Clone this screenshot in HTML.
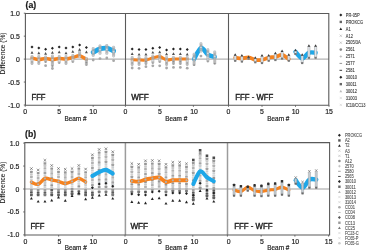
<!DOCTYPE html>
<html><head><meta charset="utf-8"><style>
html,body{margin:0;padding:0;background:#fff;width:367px;height:252px;overflow:hidden;position:relative}
</style></head><body>
<svg width="367" height="252" viewBox="0 0 367 252" style="position:absolute;left:0;top:0;filter:blur(0.3px)"><g font-family='"Liberation Sans", sans-serif'><line x1="25.4" y1="59.1" x2="328.8" y2="59.1" stroke="#949494" stroke-width="0.9"/><line x1="24.8" y1="189.0" x2="329.6" y2="189.0" stroke="#949494" stroke-width="0.9"/><path d="M32.00 58.00 C33.09 58.24 36.62 59.42 38.80 59.50 C40.98 59.58 43.42 58.50 45.60 58.50 C47.78 58.50 50.22 59.50 52.40 59.50 C54.58 59.50 57.02 58.58 59.20 58.50 C61.38 58.42 63.82 59.16 66.00 59.00 C68.18 58.84 70.62 58.01 72.80 57.50 C74.98 56.99 77.42 55.51 79.60 55.80 C81.78 56.09 85.31 58.74 86.40 59.30" fill="none" stroke="#f5821f" stroke-width="3.4" stroke-linecap="round"/><path d="M93.20 52.40 C94.29 51.84 97.82 49.57 100.00 48.90 C102.18 48.23 104.62 47.86 106.80 48.20 C108.98 48.54 112.51 50.55 113.60 51.00" fill="none" stroke="#1ea7e8" stroke-width="4.8" stroke-linecap="round"/><rect x="30.50" y="55.00" width="3.0" height="10.00" rx="1.4" fill="#acacac" fill-opacity="0.8"/><rect x="31.10" y="55.20" width="1.8" height="1.6" rx="0.7" fill="#c8ced4" fill-opacity="0.85"/><rect x="31.10" y="57.20" width="1.8" height="1.6" rx="0.7" fill="#a8a8a8" fill-opacity="0.85"/><rect x="31.10" y="59.20" width="1.8" height="1.6" rx="0.7" fill="#dde2e6" fill-opacity="0.85"/><rect x="31.10" y="61.20" width="1.8" height="1.6" rx="0.7" fill="#9a9a9a" fill-opacity="0.85"/><rect x="31.10" y="63.20" width="1.8" height="1.6" rx="0.7" fill="#b8b8b8" fill-opacity="0.85"/><path d="M32.0 45.4L33.5 46.9L32.0 48.4L30.5 46.9Z" fill="#222"/><path d="M32.0 51.0L33.5 53.7L30.5 53.7Z" fill="#505050"/><rect x="37.30" y="55.00" width="3.0" height="10.00" rx="1.4" fill="#acacac" fill-opacity="0.8"/><rect x="37.90" y="55.20" width="1.8" height="1.6" rx="0.7" fill="#c8ced4" fill-opacity="0.85"/><rect x="37.90" y="57.20" width="1.8" height="1.6" rx="0.7" fill="#a8a8a8" fill-opacity="0.85"/><rect x="37.90" y="59.20" width="1.8" height="1.6" rx="0.7" fill="#dde2e6" fill-opacity="0.85"/><rect x="37.90" y="61.20" width="1.8" height="1.6" rx="0.7" fill="#9a9a9a" fill-opacity="0.85"/><rect x="37.90" y="63.20" width="1.8" height="1.6" rx="0.7" fill="#b8b8b8" fill-opacity="0.85"/><path d="M38.8 46.5L40.3 48L38.8 49.5L37.3 48Z" fill="#222"/><path d="M38.8 51.5L40.3 54.2L37.3 54.2Z" fill="#505050"/><rect x="44.10" y="55.50" width="3.0" height="7.50" rx="1.4" fill="#acacac" fill-opacity="0.8"/><rect x="44.70" y="55.70" width="1.8" height="1.6" rx="0.7" fill="#c8ced4" fill-opacity="0.85"/><rect x="44.70" y="58.45" width="1.8" height="1.6" rx="0.7" fill="#a8a8a8" fill-opacity="0.85"/><rect x="44.70" y="61.20" width="1.8" height="1.6" rx="0.7" fill="#8a8a8a" fill-opacity="0.85"/><path d="M45.599999999999994 47.8L47.099999999999994 49.3L45.599999999999994 50.8L44.099999999999994 49.3Z" fill="#222"/><path d="M45.599999999999994 52.0L47.099999999999994 54.7L44.099999999999994 54.7Z" fill="#505050"/><circle cx="45.599999999999994" cy="65.7" r="1.4" fill="#a8a8a8"/><rect x="50.90" y="54.50" width="3.0" height="12.50" rx="1.4" fill="#acacac" fill-opacity="0.8"/><rect x="51.50" y="54.70" width="1.8" height="1.6" rx="0.7" fill="#c8ced4" fill-opacity="0.85"/><rect x="51.50" y="56.80" width="1.8" height="1.6" rx="0.7" fill="#a8a8a8" fill-opacity="0.85"/><rect x="51.50" y="58.90" width="1.8" height="1.6" rx="0.7" fill="#dde2e6" fill-opacity="0.85"/><rect x="51.50" y="61.00" width="1.8" height="1.6" rx="0.7" fill="#9a9a9a" fill-opacity="0.85"/><rect x="51.50" y="63.10" width="1.8" height="1.6" rx="0.7" fill="#b8b8b8" fill-opacity="0.85"/><rect x="51.50" y="65.20" width="1.8" height="1.6" rx="0.7" fill="#8a8a8a" fill-opacity="0.85"/><path d="M52.4 46.8L53.9 48.3L52.4 49.8L50.9 48.3Z" fill="#222"/><path d="M52.4 51.0L53.9 53.7L50.9 53.7Z" fill="#505050"/><circle cx="52.4" cy="68.5" r="1.4" fill="#a8a8a8"/><rect x="57.70" y="55.00" width="3.0" height="9.00" rx="1.4" fill="#acacac" fill-opacity="0.8"/><rect x="58.30" y="55.20" width="1.8" height="1.6" rx="0.7" fill="#c8ced4" fill-opacity="0.85"/><rect x="58.30" y="57.53" width="1.8" height="1.6" rx="0.7" fill="#a8a8a8" fill-opacity="0.85"/><rect x="58.30" y="59.87" width="1.8" height="1.6" rx="0.7" fill="#dde2e6" fill-opacity="0.85"/><rect x="58.30" y="62.20" width="1.8" height="1.6" rx="0.7" fill="#9a9a9a" fill-opacity="0.85"/><path d="M59.2 45.5L60.7 47L59.2 48.5L57.7 47Z" fill="#222"/><path d="M59.2 50.5L60.7 53.2L57.7 53.2Z" fill="#505050"/><rect x="64.50" y="55.00" width="3.0" height="10.00" rx="1.4" fill="#acacac" fill-opacity="0.8"/><rect x="65.10" y="55.20" width="1.8" height="1.6" rx="0.7" fill="#c8ced4" fill-opacity="0.85"/><rect x="65.10" y="57.20" width="1.8" height="1.6" rx="0.7" fill="#a8a8a8" fill-opacity="0.85"/><rect x="65.10" y="59.20" width="1.8" height="1.6" rx="0.7" fill="#dde2e6" fill-opacity="0.85"/><rect x="65.10" y="61.20" width="1.8" height="1.6" rx="0.7" fill="#9a9a9a" fill-opacity="0.85"/><rect x="65.10" y="63.20" width="1.8" height="1.6" rx="0.7" fill="#b8b8b8" fill-opacity="0.85"/><path d="M66.0 46.5L67.5 48L66.0 49.5L64.5 48Z" fill="#222"/><path d="M66.0 51.5L67.5 54.2L64.5 54.2Z" fill="#505050"/><rect x="71.30" y="54.00" width="3.0" height="9.00" rx="1.4" fill="#acacac" fill-opacity="0.8"/><rect x="71.90" y="54.20" width="1.8" height="1.6" rx="0.7" fill="#c8ced4" fill-opacity="0.85"/><rect x="71.90" y="56.53" width="1.8" height="1.6" rx="0.7" fill="#a8a8a8" fill-opacity="0.85"/><rect x="71.90" y="58.87" width="1.8" height="1.6" rx="0.7" fill="#dde2e6" fill-opacity="0.85"/><rect x="71.90" y="61.20" width="1.8" height="1.6" rx="0.7" fill="#9a9a9a" fill-opacity="0.85"/><path d="M72.8 45.5L74.3 47L72.8 48.5L71.3 47Z" fill="#222"/><path d="M72.8 50.0L74.3 52.7L71.3 52.7Z" fill="#505050"/><rect x="78.10" y="50.50" width="3.0" height="7.50" rx="1.4" fill="#acacac" fill-opacity="0.8"/><rect x="78.70" y="50.70" width="1.8" height="1.6" rx="0.7" fill="#c8ced4" fill-opacity="0.85"/><rect x="78.70" y="53.45" width="1.8" height="1.6" rx="0.7" fill="#a8a8a8" fill-opacity="0.85"/><rect x="78.70" y="56.20" width="1.8" height="1.6" rx="0.7" fill="#dde2e6" fill-opacity="0.85"/><path d="M79.6 43.5L81.1 45L79.6 46.5L78.1 45Z" fill="#222"/><path d="M79.6 48.1L81.1 50.800000000000004L78.1 50.800000000000004Z" fill="#505050"/><rect x="84.90" y="57.00" width="3.0" height="9.00" rx="1.4" fill="#acacac" fill-opacity="0.8"/><rect x="85.50" y="57.20" width="1.8" height="1.6" rx="0.7" fill="#c8ced4" fill-opacity="0.85"/><rect x="85.50" y="59.53" width="1.8" height="1.6" rx="0.7" fill="#a8a8a8" fill-opacity="0.85"/><rect x="85.50" y="61.87" width="1.8" height="1.6" rx="0.7" fill="#8a8a8a" fill-opacity="0.85"/><rect x="85.50" y="64.20" width="1.8" height="1.6" rx="0.7" fill="#9a9a9a" fill-opacity="0.85"/><path d="M86.39999999999999 46.0L87.89999999999999 47.5L86.39999999999999 49.0L84.89999999999999 47.5Z" fill="#222"/><path d="M86.39999999999999 50.5L87.89999999999999 53.2L84.89999999999999 53.2Z" fill="#505050"/><rect x="91.70" y="47.00" width="3.0" height="10.00" rx="1.4" fill="#acacac" fill-opacity="0.8"/><rect x="92.30" y="47.20" width="1.8" height="1.6" rx="0.7" fill="#c8ced4" fill-opacity="0.85"/><rect x="92.30" y="49.20" width="1.8" height="1.6" rx="0.7" fill="#a8a8a8" fill-opacity="0.85"/><rect x="92.30" y="51.20" width="1.8" height="1.6" rx="0.7" fill="#dde2e6" fill-opacity="0.85"/><rect x="92.30" y="53.20" width="1.8" height="1.6" rx="0.7" fill="#b4b4b4" fill-opacity="0.85"/><rect x="92.30" y="55.20" width="1.8" height="1.6" rx="0.7" fill="#d0d4d8" fill-opacity="0.85"/><circle cx="93.2" cy="60" r="1.4" fill="#a8a8a8"/><rect x="98.50" y="44.40" width="3.0" height="10.40" rx="1.4" fill="#acacac" fill-opacity="0.8"/><rect x="99.10" y="44.60" width="1.8" height="1.6" rx="0.7" fill="#c8ced4" fill-opacity="0.85"/><rect x="99.10" y="46.70" width="1.8" height="1.6" rx="0.7" fill="#a8a8a8" fill-opacity="0.85"/><rect x="99.10" y="48.80" width="1.8" height="1.6" rx="0.7" fill="#dde2e6" fill-opacity="0.85"/><rect x="99.10" y="50.90" width="1.8" height="1.6" rx="0.7" fill="#b4b4b4" fill-opacity="0.85"/><rect x="99.10" y="53.00" width="1.8" height="1.6" rx="0.7" fill="#d0d4d8" fill-opacity="0.85"/><circle cx="100.0" cy="58.6" r="1.4" fill="#a8a8a8"/><rect x="105.30" y="44.00" width="3.0" height="10.80" rx="1.4" fill="#acacac" fill-opacity="0.8"/><rect x="105.90" y="44.20" width="1.8" height="1.6" rx="0.7" fill="#c8ced4" fill-opacity="0.85"/><rect x="105.90" y="46.40" width="1.8" height="1.6" rx="0.7" fill="#a8a8a8" fill-opacity="0.85"/><rect x="105.90" y="48.60" width="1.8" height="1.6" rx="0.7" fill="#dde2e6" fill-opacity="0.85"/><rect x="105.90" y="50.80" width="1.8" height="1.6" rx="0.7" fill="#b4b4b4" fill-opacity="0.85"/><rect x="105.90" y="53.00" width="1.8" height="1.6" rx="0.7" fill="#d0d4d8" fill-opacity="0.85"/><circle cx="106.8" cy="58" r="1.4" fill="#a8a8a8"/><rect x="112.10" y="45.80" width="3.0" height="11.70" rx="1.4" fill="#acacac" fill-opacity="0.8"/><rect x="112.70" y="46.00" width="1.8" height="1.6" rx="0.7" fill="#c8ced4" fill-opacity="0.85"/><rect x="112.70" y="48.42" width="1.8" height="1.6" rx="0.7" fill="#a8a8a8" fill-opacity="0.85"/><rect x="112.70" y="50.85" width="1.8" height="1.6" rx="0.7" fill="#dde2e6" fill-opacity="0.85"/><rect x="112.70" y="53.28" width="1.8" height="1.6" rx="0.7" fill="#b4b4b4" fill-opacity="0.85"/><rect x="112.70" y="55.70" width="1.8" height="1.6" rx="0.7" fill="#d0d4d8" fill-opacity="0.85"/><circle cx="113.6" cy="60.7" r="1.4" fill="#a8a8a8"/><path d="M132.18 59.70 C133.28 59.75 136.86 59.95 139.06 60.00 C141.26 60.05 143.74 60.34 145.94 60.00 C148.14 59.66 150.62 58.46 152.82 57.90 C155.02 57.34 157.50 56.16 159.70 56.50 C161.90 56.84 164.38 59.58 166.58 60.00 C168.78 60.42 171.26 59.24 173.46 59.10 C175.66 58.96 178.14 59.10 180.34 59.10 C182.54 59.10 186.12 59.10 187.22 59.10" fill="none" stroke="#f5821f" stroke-width="3.0" stroke-linecap="round"/><path d="M194.10 59.10 C195.20 57.29 198.78 48.52 200.98 47.80 C203.18 47.08 205.66 53.14 207.86 54.60 C210.06 56.06 213.64 56.53 214.74 56.90" fill="none" stroke="#1ea7e8" stroke-width="4.4" stroke-linecap="round"/><rect x="130.68" y="56.00" width="3.0" height="10.00" rx="1.4" fill="#acacac" fill-opacity="0.8"/><rect x="131.28" y="56.20" width="1.8" height="1.6" rx="0.7" fill="#c8ced4" fill-opacity="0.85"/><rect x="131.28" y="58.20" width="1.8" height="1.6" rx="0.7" fill="#a8a8a8" fill-opacity="0.85"/><rect x="131.28" y="60.20" width="1.8" height="1.6" rx="0.7" fill="#dde2e6" fill-opacity="0.85"/><rect x="131.28" y="62.20" width="1.8" height="1.6" rx="0.7" fill="#9a9a9a" fill-opacity="0.85"/><rect x="131.28" y="64.20" width="1.8" height="1.6" rx="0.7" fill="#b8b8b8" fill-opacity="0.85"/><path d="M132.18 47.4L133.68 48.9L132.18 50.4L130.68 48.9Z" fill="#222"/><path d="M132.18 52.25L133.68 54.95L130.68 54.95Z" fill="#505050"/><circle cx="132.18" cy="68" r="1.4" fill="#a8a8a8"/><rect x="137.56" y="56.00" width="3.0" height="10.00" rx="1.4" fill="#acacac" fill-opacity="0.8"/><rect x="138.16" y="56.20" width="1.8" height="1.6" rx="0.7" fill="#c8ced4" fill-opacity="0.85"/><rect x="138.16" y="58.20" width="1.8" height="1.6" rx="0.7" fill="#a8a8a8" fill-opacity="0.85"/><rect x="138.16" y="60.20" width="1.8" height="1.6" rx="0.7" fill="#dde2e6" fill-opacity="0.85"/><rect x="138.16" y="62.20" width="1.8" height="1.6" rx="0.7" fill="#9a9a9a" fill-opacity="0.85"/><rect x="138.16" y="64.20" width="1.8" height="1.6" rx="0.7" fill="#b8b8b8" fill-opacity="0.85"/><path d="M139.06 48.1L140.56 49.6L139.06 51.1L137.56 49.6Z" fill="#222"/><path d="M139.06 52.9L140.56 55.6L137.56 55.6Z" fill="#505050"/><circle cx="139.06" cy="68.3" r="1.4" fill="#a8a8a8"/><rect x="144.44" y="56.00" width="3.0" height="9.00" rx="1.4" fill="#acacac" fill-opacity="0.8"/><rect x="145.04" y="56.20" width="1.8" height="1.6" rx="0.7" fill="#c8ced4" fill-opacity="0.85"/><rect x="145.04" y="58.53" width="1.8" height="1.6" rx="0.7" fill="#a8a8a8" fill-opacity="0.85"/><rect x="145.04" y="60.87" width="1.8" height="1.6" rx="0.7" fill="#8a8a8a" fill-opacity="0.85"/><rect x="145.04" y="63.20" width="1.8" height="1.6" rx="0.7" fill="#9a9a9a" fill-opacity="0.85"/><path d="M145.94 48.1L147.44 49.6L145.94 51.1L144.44 49.6Z" fill="#222"/><path d="M145.94 52.7L147.44 55.400000000000006L144.44 55.400000000000006Z" fill="#505050"/><circle cx="145.94" cy="66.7" r="1.4" fill="#a8a8a8"/><rect x="151.32" y="54.50" width="3.0" height="9.50" rx="1.4" fill="#acacac" fill-opacity="0.8"/><rect x="151.92" y="54.70" width="1.8" height="1.6" rx="0.7" fill="#c8ced4" fill-opacity="0.85"/><rect x="151.92" y="57.20" width="1.8" height="1.6" rx="0.7" fill="#a8a8a8" fill-opacity="0.85"/><rect x="151.92" y="59.70" width="1.8" height="1.6" rx="0.7" fill="#dde2e6" fill-opacity="0.85"/><rect x="151.92" y="62.20" width="1.8" height="1.6" rx="0.7" fill="#9a9a9a" fill-opacity="0.85"/><path d="M152.82 46.7L154.32 48.2L152.82 49.7L151.32 48.2Z" fill="#222"/><path d="M152.82 50.9L154.32 53.6L151.32 53.6Z" fill="#505050"/><circle cx="152.82" cy="65.8" r="1.4" fill="#a8a8a8"/><rect x="158.20" y="54.00" width="3.0" height="9.00" rx="1.4" fill="#acacac" fill-opacity="0.8"/><rect x="158.80" y="54.20" width="1.8" height="1.6" rx="0.7" fill="#c8ced4" fill-opacity="0.85"/><rect x="158.80" y="56.53" width="1.8" height="1.6" rx="0.7" fill="#a8a8a8" fill-opacity="0.85"/><rect x="158.80" y="58.87" width="1.8" height="1.6" rx="0.7" fill="#dde2e6" fill-opacity="0.85"/><rect x="158.80" y="61.20" width="1.8" height="1.6" rx="0.7" fill="#9a9a9a" fill-opacity="0.85"/><path d="M159.7 46.0L161.2 47.5L159.7 49.0L158.2 47.5Z" fill="#222"/><path d="M159.7 50.5L161.2 53.2L158.2 53.2Z" fill="#505050"/><circle cx="159.7" cy="65.8" r="1.4" fill="#a8a8a8"/><rect x="165.08" y="56.00" width="3.0" height="10.00" rx="1.4" fill="#acacac" fill-opacity="0.8"/><rect x="165.68" y="56.20" width="1.8" height="1.6" rx="0.7" fill="#c8ced4" fill-opacity="0.85"/><rect x="165.68" y="58.20" width="1.8" height="1.6" rx="0.7" fill="#a8a8a8" fill-opacity="0.85"/><rect x="165.68" y="60.20" width="1.8" height="1.6" rx="0.7" fill="#dde2e6" fill-opacity="0.85"/><rect x="165.68" y="62.20" width="1.8" height="1.6" rx="0.7" fill="#9a9a9a" fill-opacity="0.85"/><rect x="165.68" y="64.20" width="1.8" height="1.6" rx="0.7" fill="#b8b8b8" fill-opacity="0.85"/><path d="M166.57999999999998 48.5L168.07999999999998 50L166.57999999999998 51.5L165.07999999999998 50Z" fill="#222"/><path d="M166.57999999999998 52.5L168.07999999999998 55.2L165.07999999999998 55.2Z" fill="#505050"/><circle cx="166.57999999999998" cy="68" r="1.4" fill="#a8a8a8"/><rect x="171.96" y="56.00" width="3.0" height="9.00" rx="1.4" fill="#acacac" fill-opacity="0.8"/><rect x="172.56" y="56.20" width="1.8" height="1.6" rx="0.7" fill="#c8ced4" fill-opacity="0.85"/><rect x="172.56" y="58.53" width="1.8" height="1.6" rx="0.7" fill="#a8a8a8" fill-opacity="0.85"/><rect x="172.56" y="60.87" width="1.8" height="1.6" rx="0.7" fill="#8a8a8a" fill-opacity="0.85"/><rect x="172.56" y="63.20" width="1.8" height="1.6" rx="0.7" fill="#9a9a9a" fill-opacity="0.85"/><path d="M173.45999999999998 47.4L174.95999999999998 48.9L173.45999999999998 50.4L171.95999999999998 48.9Z" fill="#222"/><path d="M173.45999999999998 52.3L174.95999999999998 55.0L171.95999999999998 55.0Z" fill="#505050"/><circle cx="173.45999999999998" cy="67.4" r="1.4" fill="#a8a8a8"/><rect x="178.84" y="56.00" width="3.0" height="9.00" rx="1.4" fill="#acacac" fill-opacity="0.8"/><rect x="179.44" y="56.20" width="1.8" height="1.6" rx="0.7" fill="#c8ced4" fill-opacity="0.85"/><rect x="179.44" y="58.53" width="1.8" height="1.6" rx="0.7" fill="#a8a8a8" fill-opacity="0.85"/><rect x="179.44" y="60.87" width="1.8" height="1.6" rx="0.7" fill="#8a8a8a" fill-opacity="0.85"/><rect x="179.44" y="63.20" width="1.8" height="1.6" rx="0.7" fill="#9a9a9a" fill-opacity="0.85"/><path d="M180.34 47.4L181.84 48.9L180.34 50.4L178.84 48.9Z" fill="#222"/><path d="M180.34 52.3L181.84 55.0L178.84 55.0Z" fill="#505050"/><circle cx="180.34" cy="67.4" r="1.4" fill="#a8a8a8"/><rect x="185.72" y="56.00" width="3.0" height="10.00" rx="1.4" fill="#acacac" fill-opacity="0.8"/><rect x="186.32" y="56.20" width="1.8" height="1.6" rx="0.7" fill="#c8ced4" fill-opacity="0.85"/><rect x="186.32" y="58.20" width="1.8" height="1.6" rx="0.7" fill="#a8a8a8" fill-opacity="0.85"/><rect x="186.32" y="60.20" width="1.8" height="1.6" rx="0.7" fill="#dde2e6" fill-opacity="0.85"/><rect x="186.32" y="62.20" width="1.8" height="1.6" rx="0.7" fill="#9a9a9a" fill-opacity="0.85"/><rect x="186.32" y="64.20" width="1.8" height="1.6" rx="0.7" fill="#b8b8b8" fill-opacity="0.85"/><path d="M187.22 48.1L188.72 49.6L187.22 51.1L185.72 49.6Z" fill="#222"/><path d="M187.22 52.8L188.72 55.5L185.72 55.5Z" fill="#505050"/><circle cx="187.22" cy="68.2" r="1.4" fill="#a8a8a8"/><rect x="192.60" y="52.80" width="3.0" height="13.30" rx="1.4" fill="#acacac" fill-opacity="0.8"/><rect x="193.20" y="53.00" width="1.8" height="1.6" rx="0.7" fill="#c8ced4" fill-opacity="0.85"/><rect x="193.20" y="55.26" width="1.8" height="1.6" rx="0.7" fill="#a8a8a8" fill-opacity="0.85"/><rect x="193.20" y="57.52" width="1.8" height="1.6" rx="0.7" fill="#dde2e6" fill-opacity="0.85"/><rect x="193.20" y="59.78" width="1.8" height="1.6" rx="0.7" fill="#b4b4b4" fill-opacity="0.85"/><rect x="193.20" y="62.04" width="1.8" height="1.6" rx="0.7" fill="#b8b8b8" fill-opacity="0.85"/><rect x="193.20" y="64.30" width="1.8" height="1.6" rx="0.7" fill="#8a8a8a" fill-opacity="0.85"/><rect x="199.48" y="42.30" width="3.0" height="10.30" rx="1.4" fill="#acacac" fill-opacity="0.8"/><rect x="200.08" y="42.50" width="1.8" height="1.6" rx="0.7" fill="#c8ced4" fill-opacity="0.85"/><rect x="200.08" y="44.58" width="1.8" height="1.6" rx="0.7" fill="#a8a8a8" fill-opacity="0.85"/><rect x="200.08" y="46.65" width="1.8" height="1.6" rx="0.7" fill="#dde2e6" fill-opacity="0.85"/><rect x="200.08" y="48.73" width="1.8" height="1.6" rx="0.7" fill="#b4b4b4" fill-opacity="0.85"/><rect x="200.08" y="50.80" width="1.8" height="1.6" rx="0.7" fill="#d0d4d8" fill-opacity="0.85"/><circle cx="200.98" cy="56.1" r="1.4" fill="#a8a8a8"/><rect x="206.36" y="48.30" width="3.0" height="14.10" rx="1.4" fill="#acacac" fill-opacity="0.8"/><rect x="206.96" y="48.50" width="1.8" height="1.6" rx="0.7" fill="#c8ced4" fill-opacity="0.85"/><rect x="206.96" y="50.52" width="1.8" height="1.6" rx="0.7" fill="#a8a8a8" fill-opacity="0.85"/><rect x="206.96" y="52.53" width="1.8" height="1.6" rx="0.7" fill="#dde2e6" fill-opacity="0.85"/><rect x="206.96" y="54.55" width="1.8" height="1.6" rx="0.7" fill="#b4b4b4" fill-opacity="0.85"/><rect x="206.96" y="56.57" width="1.8" height="1.6" rx="0.7" fill="#d0d4d8" fill-opacity="0.85"/><rect x="206.96" y="58.58" width="1.8" height="1.6" rx="0.7" fill="#c8ced4" fill-opacity="0.85"/><rect x="206.96" y="60.60" width="1.8" height="1.6" rx="0.7" fill="#9a9a9a" fill-opacity="0.85"/><rect x="213.24" y="50.60" width="3.0" height="14.00" rx="1.4" fill="#acacac" fill-opacity="0.8"/><rect x="213.84" y="50.80" width="1.8" height="1.6" rx="0.7" fill="#c8ced4" fill-opacity="0.85"/><rect x="213.84" y="53.20" width="1.8" height="1.6" rx="0.7" fill="#a8a8a8" fill-opacity="0.85"/><rect x="213.84" y="55.60" width="1.8" height="1.6" rx="0.7" fill="#dde2e6" fill-opacity="0.85"/><rect x="213.84" y="58.00" width="1.8" height="1.6" rx="0.7" fill="#b4b4b4" fill-opacity="0.85"/><rect x="213.84" y="60.40" width="1.8" height="1.6" rx="0.7" fill="#b8b8b8" fill-opacity="0.85"/><rect x="213.84" y="62.80" width="1.8" height="1.6" rx="0.7" fill="#8a8a8a" fill-opacity="0.85"/><path d="M235.20 57.60 C236.27 57.73 239.76 58.45 241.90 58.40 C244.04 58.35 246.46 57.06 248.60 57.30 C250.74 57.54 253.16 59.48 255.30 59.90 C257.44 60.32 259.86 60.27 262.00 59.90 C264.14 59.53 266.56 58.08 268.70 57.60 C270.84 57.12 273.26 57.33 275.40 56.90 C277.54 56.47 279.96 54.55 282.10 54.90 C284.24 55.25 287.73 58.43 288.80 59.10" fill="none" stroke="#f5821f" stroke-width="3.8" stroke-linecap="round"/><path d="M295.50 51.90 C296.57 52.94 300.06 58.26 302.20 58.40 C304.34 58.54 306.76 53.70 308.90 52.80 C311.04 51.90 314.53 52.80 315.60 52.80" fill="none" stroke="#1ea7e8" stroke-width="4.4" stroke-linecap="round"/><rect x="234.10" y="54.80" width="2.2" height="6.30" rx="1" fill="#e2e8ee" stroke="#9a9a9a" stroke-width="0.5"/><path d="M235.2 53.199999999999996L236.6 55.71999999999999L233.79999999999998 55.71999999999999Z" fill="#3a3a3a"/><rect x="234.10" y="59.80" width="2.2" height="2.0" fill="#777"/><rect x="240.80" y="55.60" width="2.2" height="6.30" rx="1" fill="#e2e8ee" stroke="#9a9a9a" stroke-width="0.5"/><path d="M241.9 54.0L243.3 56.519999999999996L240.5 56.519999999999996Z" fill="#3a3a3a"/><rect x="240.80" y="60.60" width="2.2" height="2.0" fill="#777"/><rect x="247.50" y="57.00" width="2.2" height="2.00" rx="1" fill="#e2e8ee" stroke="#9a9a9a" stroke-width="0.5"/><path d="M248.6 55.4L250.0 57.919999999999995L247.2 57.919999999999995Z" fill="#3a3a3a"/><rect x="247.50" y="57.70" width="2.2" height="2.0" fill="#777"/><rect x="254.20" y="57.80" width="2.2" height="4.80" rx="1" fill="#e2e8ee" stroke="#9a9a9a" stroke-width="0.5"/><path d="M255.3 56.199999999999996L256.7 58.71999999999999L253.9 58.71999999999999Z" fill="#3a3a3a"/><rect x="254.20" y="61.30" width="2.2" height="2.0" fill="#777"/><rect x="260.90" y="55.60" width="2.2" height="7.80" rx="1" fill="#e2e8ee" stroke="#9a9a9a" stroke-width="0.5"/><path d="M262.0 54.0L263.4 56.519999999999996L260.6 56.519999999999996Z" fill="#3a3a3a"/><rect x="260.90" y="62.10" width="2.2" height="2.0" fill="#777"/><rect x="267.60" y="55.60" width="2.2" height="5.50" rx="1" fill="#e2e8ee" stroke="#9a9a9a" stroke-width="0.5"/><path d="M268.7 54.0L270.09999999999997 56.519999999999996L267.3 56.519999999999996Z" fill="#3a3a3a"/><rect x="267.60" y="59.80" width="2.2" height="2.0" fill="#777"/><rect x="274.30" y="53.30" width="2.2" height="7.10" rx="1" fill="#e2e8ee" stroke="#9a9a9a" stroke-width="0.5"/><path d="M275.4 51.699999999999996L276.79999999999995 54.21999999999999L274.0 54.21999999999999Z" fill="#3a3a3a"/><rect x="274.30" y="59.10" width="2.2" height="2.0" fill="#777"/><rect x="281.00" y="51.10" width="2.2" height="7.80" rx="1" fill="#e2e8ee" stroke="#9a9a9a" stroke-width="0.5"/><path d="M282.1 49.5L283.5 52.019999999999996L280.70000000000005 52.019999999999996Z" fill="#3a3a3a"/><rect x="281.00" y="57.60" width="2.2" height="2.0" fill="#777"/><rect x="287.70" y="54.80" width="2.2" height="6.30" rx="1" fill="#e2e8ee" stroke="#9a9a9a" stroke-width="0.5"/><path d="M288.8 53.199999999999996L290.2 55.71999999999999L287.40000000000003 55.71999999999999Z" fill="#3a3a3a"/><rect x="287.70" y="59.80" width="2.2" height="2.0" fill="#777"/><rect x="294.40" y="50.30" width="2.2" height="4.00" rx="1" fill="#e2e8ee" stroke="#9a9a9a" stroke-width="0.5"/><path d="M295.5 48.699999999999996L296.9 51.21999999999999L294.1 51.21999999999999Z" fill="#3a3a3a"/><rect x="294.40" y="53.00" width="2.2" height="2.0" fill="#777"/><rect x="301.10" y="54.80" width="2.2" height="8.60" rx="1" fill="#e2e8ee" stroke="#9a9a9a" stroke-width="0.5"/><path d="M302.2 53.199999999999996L303.59999999999997 55.71999999999999L300.8 55.71999999999999Z" fill="#3a3a3a"/><rect x="301.10" y="62.10" width="2.2" height="2.0" fill="#777"/><rect x="307.80" y="45.80" width="2.2" height="12.30" rx="1" fill="#e2e8ee" stroke="#9a9a9a" stroke-width="0.5"/><path d="M308.9 44.199999999999996L310.29999999999995 46.71999999999999L307.5 46.71999999999999Z" fill="#3a3a3a"/><rect x="307.80" y="56.80" width="2.2" height="2.0" fill="#777"/><rect x="314.50" y="45.80" width="2.2" height="12.30" rx="1" fill="#e2e8ee" stroke="#9a9a9a" stroke-width="0.5"/><path d="M315.6 44.199999999999996L317.0 46.71999999999999L314.20000000000005 46.71999999999999Z" fill="#3a3a3a"/><rect x="314.50" y="56.80" width="2.2" height="2.0" fill="#777"/><path d="M30.080000000000002 167.29999999999998L32.68 169.9M32.68 167.29999999999998L30.080000000000002 169.9" stroke="#4a4a4a" stroke-width="0.6"/><rect x="30.03" y="170.65" width="2.7" height="2.3" rx="0.5" fill="#979797"/><rect x="30.03" y="173.23" width="2.7" height="2.3" rx="0.5" fill="#c8c8c8"/><rect x="30.03" y="175.81" width="2.7" height="2.3" rx="0.5" fill="#b2b2b2"/><rect x="30.03" y="178.38" width="2.7" height="2.3" rx="0.5" fill="#d2d2d2"/><rect x="30.03" y="180.96" width="2.7" height="2.3" rx="0.5" fill="#a2a2a2"/><rect x="30.03" y="183.54" width="2.7" height="2.3" rx="0.5" fill="#cbcfd2"/><rect x="30.03" y="186.12" width="2.7" height="2.3" rx="0.5" fill="#d8d8d8"/><rect x="30.03" y="188.69" width="2.7" height="2.3" rx="0.5" fill="#979797"/><rect x="30.03" y="191.27" width="2.7" height="2.3" rx="0.5" fill="#555555"/><rect x="30.03" y="193.85" width="2.7" height="2.3" rx="0.5" fill="#5e5e5e"/><path d="M31.380000000000003 196.9L32.88 199.6L29.880000000000003 199.6Z" fill="#222"/><path d="M36.86000000000001 168.7L39.46 171.3M39.46 168.7L36.86000000000001 171.3" stroke="#4a4a4a" stroke-width="0.6"/><rect x="36.81" y="172.05" width="2.7" height="2.3" rx="0.5" fill="#979797"/><rect x="36.81" y="174.47" width="2.7" height="2.3" rx="0.5" fill="#c8c8c8"/><rect x="36.81" y="176.89" width="2.7" height="2.3" rx="0.5" fill="#b2b2b2"/><rect x="36.81" y="179.32" width="2.7" height="2.3" rx="0.5" fill="#d2d2d2"/><rect x="36.81" y="181.74" width="2.7" height="2.3" rx="0.5" fill="#a2a2a2"/><rect x="36.81" y="184.16" width="2.7" height="2.3" rx="0.5" fill="#cbcfd2"/><rect x="36.81" y="186.58" width="2.7" height="2.3" rx="0.5" fill="#d8d8d8"/><rect x="36.81" y="189.01" width="2.7" height="2.3" rx="0.5" fill="#979797"/><rect x="36.81" y="191.43" width="2.7" height="2.3" rx="0.5" fill="#555555"/><rect x="36.81" y="193.85" width="2.7" height="2.3" rx="0.5" fill="#5e5e5e"/><path d="M38.160000000000004 199.9L39.660000000000004 202.6L36.660000000000004 202.6Z" fill="#222"/><path d="M43.64 159.0L46.239999999999995 161.60000000000002M46.239999999999995 159.0L43.64 161.60000000000002" stroke="#4a4a4a" stroke-width="0.6"/><rect x="43.59" y="162.35" width="2.7" height="2.3" rx="0.5" fill="#979797"/><rect x="43.59" y="164.77" width="2.7" height="2.3" rx="0.5" fill="#c8c8c8"/><rect x="43.59" y="167.20" width="2.7" height="2.3" rx="0.5" fill="#b2b2b2"/><rect x="43.59" y="169.62" width="2.7" height="2.3" rx="0.5" fill="#d2d2d2"/><rect x="43.59" y="172.04" width="2.7" height="2.3" rx="0.5" fill="#a2a2a2"/><rect x="43.59" y="174.47" width="2.7" height="2.3" rx="0.5" fill="#cbcfd2"/><rect x="43.59" y="176.89" width="2.7" height="2.3" rx="0.5" fill="#d8d8d8"/><rect x="43.59" y="179.31" width="2.7" height="2.3" rx="0.5" fill="#979797"/><rect x="43.59" y="181.73" width="2.7" height="2.3" rx="0.5" fill="#c8c8c8"/><rect x="43.59" y="184.16" width="2.7" height="2.3" rx="0.5" fill="#b2b2b2"/><rect x="43.59" y="186.58" width="2.7" height="2.3" rx="0.5" fill="#d2d2d2"/><rect x="43.59" y="189.00" width="2.7" height="2.3" rx="0.5" fill="#a2a2a2"/><rect x="43.59" y="191.43" width="2.7" height="2.3" rx="0.5" fill="#5e5e5e"/><rect x="43.59" y="193.85" width="2.7" height="2.3" rx="0.5" fill="#7a7a7a"/><path d="M44.94 199.9L46.44 202.6L43.44 202.6Z" fill="#222"/><path d="M50.42 164.2L53.019999999999996 166.8M53.019999999999996 164.2L50.42 166.8" stroke="#4a4a4a" stroke-width="0.6"/><rect x="50.37" y="167.55" width="2.7" height="2.3" rx="0.5" fill="#979797"/><rect x="50.37" y="169.94" width="2.7" height="2.3" rx="0.5" fill="#c8c8c8"/><rect x="50.37" y="172.33" width="2.7" height="2.3" rx="0.5" fill="#b2b2b2"/><rect x="50.37" y="174.72" width="2.7" height="2.3" rx="0.5" fill="#d2d2d2"/><rect x="50.37" y="177.11" width="2.7" height="2.3" rx="0.5" fill="#a2a2a2"/><rect x="50.37" y="179.50" width="2.7" height="2.3" rx="0.5" fill="#cbcfd2"/><rect x="50.37" y="181.90" width="2.7" height="2.3" rx="0.5" fill="#d8d8d8"/><rect x="50.37" y="184.29" width="2.7" height="2.3" rx="0.5" fill="#979797"/><rect x="50.37" y="186.68" width="2.7" height="2.3" rx="0.5" fill="#c8c8c8"/><rect x="50.37" y="189.07" width="2.7" height="2.3" rx="0.5" fill="#5e5e5e"/><rect x="50.37" y="191.46" width="2.7" height="2.3" rx="0.5" fill="#7a7a7a"/><rect x="50.37" y="193.85" width="2.7" height="2.3" rx="0.5" fill="#555555"/><path d="M51.72 198.8L53.22 201.5L50.22 201.5Z" fill="#222"/><path d="M57.2 167.29999999999998L59.8 169.9M59.8 167.29999999999998L57.2 169.9" stroke="#4a4a4a" stroke-width="0.6"/><rect x="57.15" y="170.65" width="2.7" height="2.3" rx="0.5" fill="#979797"/><rect x="57.15" y="173.23" width="2.7" height="2.3" rx="0.5" fill="#c8c8c8"/><rect x="57.15" y="175.81" width="2.7" height="2.3" rx="0.5" fill="#b2b2b2"/><rect x="57.15" y="178.38" width="2.7" height="2.3" rx="0.5" fill="#d2d2d2"/><rect x="57.15" y="180.96" width="2.7" height="2.3" rx="0.5" fill="#a2a2a2"/><rect x="57.15" y="183.54" width="2.7" height="2.3" rx="0.5" fill="#cbcfd2"/><rect x="57.15" y="186.12" width="2.7" height="2.3" rx="0.5" fill="#d8d8d8"/><rect x="57.15" y="188.69" width="2.7" height="2.3" rx="0.5" fill="#979797"/><rect x="57.15" y="191.27" width="2.7" height="2.3" rx="0.5" fill="#555555"/><rect x="57.15" y="193.85" width="2.7" height="2.3" rx="0.5" fill="#5e5e5e"/><path d="M58.5 195.8L60.0 198.5L57.0 198.5Z" fill="#222"/><path d="M63.980000000000004 168.0L66.58 170.60000000000002M66.58 168.0L63.980000000000004 170.60000000000002" stroke="#4a4a4a" stroke-width="0.6"/><rect x="63.93" y="171.35" width="2.7" height="2.3" rx="0.5" fill="#979797"/><rect x="63.93" y="173.85" width="2.7" height="2.3" rx="0.5" fill="#c8c8c8"/><rect x="63.93" y="176.35" width="2.7" height="2.3" rx="0.5" fill="#b2b2b2"/><rect x="63.93" y="178.85" width="2.7" height="2.3" rx="0.5" fill="#d2d2d2"/><rect x="63.93" y="181.35" width="2.7" height="2.3" rx="0.5" fill="#a2a2a2"/><rect x="63.93" y="183.85" width="2.7" height="2.3" rx="0.5" fill="#cbcfd2"/><rect x="63.93" y="186.35" width="2.7" height="2.3" rx="0.5" fill="#d8d8d8"/><rect x="63.93" y="188.85" width="2.7" height="2.3" rx="0.5" fill="#979797"/><rect x="63.93" y="191.35" width="2.7" height="2.3" rx="0.5" fill="#555555"/><rect x="63.93" y="193.85" width="2.7" height="2.3" rx="0.5" fill="#5e5e5e"/><path d="M65.28 199.1L66.78 201.79999999999998L63.78 201.79999999999998Z" fill="#222"/><path d="M70.76 167.29999999999998L73.36 169.9M73.36 167.29999999999998L70.76 169.9" stroke="#4a4a4a" stroke-width="0.6"/><rect x="70.71" y="170.65" width="2.7" height="2.3" rx="0.5" fill="#979797"/><rect x="70.71" y="173.12" width="2.7" height="2.3" rx="0.5" fill="#c8c8c8"/><rect x="70.71" y="175.58" width="2.7" height="2.3" rx="0.5" fill="#b2b2b2"/><rect x="70.71" y="178.05" width="2.7" height="2.3" rx="0.5" fill="#d2d2d2"/><rect x="70.71" y="180.52" width="2.7" height="2.3" rx="0.5" fill="#a2a2a2"/><rect x="70.71" y="182.98" width="2.7" height="2.3" rx="0.5" fill="#cbcfd2"/><rect x="70.71" y="185.45" width="2.7" height="2.3" rx="0.5" fill="#d8d8d8"/><rect x="70.71" y="187.92" width="2.7" height="2.3" rx="0.5" fill="#979797"/><rect x="70.71" y="190.38" width="2.7" height="2.3" rx="0.5" fill="#555555"/><rect x="70.71" y="192.85" width="2.7" height="2.3" rx="0.5" fill="#5e5e5e"/><path d="M72.06 194.3L73.56 197.0L70.56 197.0Z" fill="#222"/><path d="M77.54 164.2L80.14 166.8M80.14 164.2L77.54 166.8" stroke="#4a4a4a" stroke-width="0.6"/><rect x="77.49" y="167.55" width="2.7" height="2.3" rx="0.5" fill="#979797"/><rect x="77.49" y="170.08" width="2.7" height="2.3" rx="0.5" fill="#c8c8c8"/><rect x="77.49" y="172.61" width="2.7" height="2.3" rx="0.5" fill="#b2b2b2"/><rect x="77.49" y="175.14" width="2.7" height="2.3" rx="0.5" fill="#d2d2d2"/><rect x="77.49" y="177.67" width="2.7" height="2.3" rx="0.5" fill="#a2a2a2"/><rect x="77.49" y="180.20" width="2.7" height="2.3" rx="0.5" fill="#cbcfd2"/><rect x="77.49" y="182.73" width="2.7" height="2.3" rx="0.5" fill="#d8d8d8"/><rect x="77.49" y="185.26" width="2.7" height="2.3" rx="0.5" fill="#979797"/><rect x="77.49" y="187.79" width="2.7" height="2.3" rx="0.5" fill="#c8c8c8"/><rect x="77.49" y="190.32" width="2.7" height="2.3" rx="0.5" fill="#5e5e5e"/><rect x="77.49" y="192.85" width="2.7" height="2.3" rx="0.5" fill="#7a7a7a"/><path d="M78.84 191.5L80.34 194.2L77.34 194.2Z" fill="#222"/><path d="M84.32000000000001 167.79999999999998L86.92 170.4M86.92 167.79999999999998L84.32000000000001 170.4" stroke="#4a4a4a" stroke-width="0.6"/><rect x="84.27" y="171.15" width="2.7" height="2.3" rx="0.5" fill="#979797"/><rect x="84.27" y="173.67" width="2.7" height="2.3" rx="0.5" fill="#c8c8c8"/><rect x="84.27" y="176.19" width="2.7" height="2.3" rx="0.5" fill="#b2b2b2"/><rect x="84.27" y="178.72" width="2.7" height="2.3" rx="0.5" fill="#d2d2d2"/><rect x="84.27" y="181.24" width="2.7" height="2.3" rx="0.5" fill="#a2a2a2"/><rect x="84.27" y="183.76" width="2.7" height="2.3" rx="0.5" fill="#cbcfd2"/><rect x="84.27" y="186.28" width="2.7" height="2.3" rx="0.5" fill="#d8d8d8"/><rect x="84.27" y="188.81" width="2.7" height="2.3" rx="0.5" fill="#979797"/><rect x="84.27" y="191.33" width="2.7" height="2.3" rx="0.5" fill="#555555"/><rect x="84.27" y="193.85" width="2.7" height="2.3" rx="0.5" fill="#5e5e5e"/><path d="M85.62 197.5L87.12 200.2L84.12 200.2Z" fill="#222"/><path d="M91.10000000000001 153.5L93.7 156.10000000000002M93.7 153.5L91.10000000000001 156.10000000000002" stroke="#4a4a4a" stroke-width="0.6"/><rect x="91.05" y="156.85" width="2.7" height="2.3" rx="0.5" fill="#979797"/><rect x="91.05" y="159.32" width="2.7" height="2.3" rx="0.5" fill="#c8c8c8"/><rect x="91.05" y="161.78" width="2.7" height="2.3" rx="0.5" fill="#b2b2b2"/><rect x="91.05" y="164.25" width="2.7" height="2.3" rx="0.5" fill="#d2d2d2"/><rect x="91.05" y="166.72" width="2.7" height="2.3" rx="0.5" fill="#a2a2a2"/><rect x="91.05" y="169.18" width="2.7" height="2.3" rx="0.5" fill="#cbcfd2"/><rect x="91.05" y="171.65" width="2.7" height="2.3" rx="0.5" fill="#d8d8d8"/><rect x="91.05" y="174.12" width="2.7" height="2.3" rx="0.5" fill="#979797"/><rect x="91.05" y="176.58" width="2.7" height="2.3" rx="0.5" fill="#c8c8c8"/><rect x="91.05" y="179.05" width="2.7" height="2.3" rx="0.5" fill="#b2b2b2"/><rect x="91.05" y="181.52" width="2.7" height="2.3" rx="0.5" fill="#d2d2d2"/><rect x="91.05" y="183.98" width="2.7" height="2.3" rx="0.5" fill="#a2a2a2"/><rect x="91.05" y="186.45" width="2.7" height="2.3" rx="0.5" fill="#cbcfd2"/><rect x="91.05" y="188.92" width="2.7" height="2.3" rx="0.5" fill="#d8d8d8"/><rect x="91.05" y="191.38" width="2.7" height="2.3" rx="0.5" fill="#555555"/><rect x="91.05" y="193.85" width="2.7" height="2.3" rx="0.5" fill="#5e5e5e"/><path d="M92.4 196.1L93.9 198.79999999999998L90.9 198.79999999999998Z" fill="#222"/><path d="M97.88000000000001 148.2L100.48 150.8M100.48 148.2L97.88000000000001 150.8" stroke="#4a4a4a" stroke-width="0.6"/><rect x="97.83" y="151.55" width="2.7" height="2.3" rx="0.5" fill="#979797"/><rect x="97.83" y="154.01" width="2.7" height="2.3" rx="0.5" fill="#c8c8c8"/><rect x="97.83" y="156.46" width="2.7" height="2.3" rx="0.5" fill="#b2b2b2"/><rect x="97.83" y="158.92" width="2.7" height="2.3" rx="0.5" fill="#d2d2d2"/><rect x="97.83" y="161.37" width="2.7" height="2.3" rx="0.5" fill="#a2a2a2"/><rect x="97.83" y="163.83" width="2.7" height="2.3" rx="0.5" fill="#cbcfd2"/><rect x="97.83" y="166.29" width="2.7" height="2.3" rx="0.5" fill="#d8d8d8"/><rect x="97.83" y="168.74" width="2.7" height="2.3" rx="0.5" fill="#979797"/><rect x="97.83" y="171.20" width="2.7" height="2.3" rx="0.5" fill="#c8c8c8"/><rect x="97.83" y="173.66" width="2.7" height="2.3" rx="0.5" fill="#b2b2b2"/><rect x="97.83" y="176.11" width="2.7" height="2.3" rx="0.5" fill="#d2d2d2"/><rect x="97.83" y="178.57" width="2.7" height="2.3" rx="0.5" fill="#a2a2a2"/><rect x="97.83" y="181.02" width="2.7" height="2.3" rx="0.5" fill="#cbcfd2"/><rect x="97.83" y="183.48" width="2.7" height="2.3" rx="0.5" fill="#d8d8d8"/><rect x="97.83" y="185.94" width="2.7" height="2.3" rx="0.5" fill="#979797"/><rect x="97.83" y="188.39" width="2.7" height="2.3" rx="0.5" fill="#c8c8c8"/><rect x="97.83" y="190.85" width="2.7" height="2.3" rx="0.5" fill="#7a7a7a"/><path d="M99.18 193.8L100.68 196.5L97.68 196.5Z" fill="#222"/><path d="M104.66000000000001 147.5L107.26 150.10000000000002M107.26 147.5L104.66000000000001 150.10000000000002" stroke="#4a4a4a" stroke-width="0.6"/><rect x="104.61" y="150.85" width="2.7" height="2.3" rx="0.5" fill="#979797"/><rect x="104.61" y="153.35" width="2.7" height="2.3" rx="0.5" fill="#c8c8c8"/><rect x="104.61" y="155.85" width="2.7" height="2.3" rx="0.5" fill="#b2b2b2"/><rect x="104.61" y="158.35" width="2.7" height="2.3" rx="0.5" fill="#d2d2d2"/><rect x="104.61" y="160.85" width="2.7" height="2.3" rx="0.5" fill="#a2a2a2"/><rect x="104.61" y="163.35" width="2.7" height="2.3" rx="0.5" fill="#cbcfd2"/><rect x="104.61" y="165.85" width="2.7" height="2.3" rx="0.5" fill="#d8d8d8"/><rect x="104.61" y="168.35" width="2.7" height="2.3" rx="0.5" fill="#979797"/><rect x="104.61" y="170.85" width="2.7" height="2.3" rx="0.5" fill="#c8c8c8"/><rect x="104.61" y="173.35" width="2.7" height="2.3" rx="0.5" fill="#b2b2b2"/><rect x="104.61" y="175.85" width="2.7" height="2.3" rx="0.5" fill="#d2d2d2"/><rect x="104.61" y="178.35" width="2.7" height="2.3" rx="0.5" fill="#a2a2a2"/><rect x="104.61" y="180.85" width="2.7" height="2.3" rx="0.5" fill="#cbcfd2"/><rect x="104.61" y="183.35" width="2.7" height="2.3" rx="0.5" fill="#d8d8d8"/><rect x="104.61" y="185.85" width="2.7" height="2.3" rx="0.5" fill="#979797"/><rect x="104.61" y="188.35" width="2.7" height="2.3" rx="0.5" fill="#c8c8c8"/><rect x="104.61" y="190.85" width="2.7" height="2.3" rx="0.5" fill="#7a7a7a"/><path d="M105.96000000000001 193.1L107.46000000000001 195.79999999999998L104.46000000000001 195.79999999999998Z" fill="#222"/><path d="M111.44000000000001 150.5L114.04 153.10000000000002M114.04 150.5L111.44000000000001 153.10000000000002" stroke="#4a4a4a" stroke-width="0.6"/><rect x="111.39" y="153.85" width="2.7" height="2.3" rx="0.5" fill="#979797"/><rect x="111.39" y="156.35" width="2.7" height="2.3" rx="0.5" fill="#c8c8c8"/><rect x="111.39" y="158.85" width="2.7" height="2.3" rx="0.5" fill="#b2b2b2"/><rect x="111.39" y="161.35" width="2.7" height="2.3" rx="0.5" fill="#d2d2d2"/><rect x="111.39" y="163.85" width="2.7" height="2.3" rx="0.5" fill="#a2a2a2"/><rect x="111.39" y="166.35" width="2.7" height="2.3" rx="0.5" fill="#cbcfd2"/><rect x="111.39" y="168.85" width="2.7" height="2.3" rx="0.5" fill="#d8d8d8"/><rect x="111.39" y="171.35" width="2.7" height="2.3" rx="0.5" fill="#979797"/><rect x="111.39" y="173.85" width="2.7" height="2.3" rx="0.5" fill="#c8c8c8"/><rect x="111.39" y="176.35" width="2.7" height="2.3" rx="0.5" fill="#b2b2b2"/><rect x="111.39" y="178.85" width="2.7" height="2.3" rx="0.5" fill="#d2d2d2"/><rect x="111.39" y="181.35" width="2.7" height="2.3" rx="0.5" fill="#a2a2a2"/><rect x="111.39" y="183.85" width="2.7" height="2.3" rx="0.5" fill="#cbcfd2"/><rect x="111.39" y="186.35" width="2.7" height="2.3" rx="0.5" fill="#d8d8d8"/><rect x="111.39" y="188.85" width="2.7" height="2.3" rx="0.5" fill="#979797"/><rect x="111.39" y="191.35" width="2.7" height="2.3" rx="0.5" fill="#5e5e5e"/><rect x="111.39" y="193.85" width="2.7" height="2.3" rx="0.5" fill="#7a7a7a"/><path d="M112.74000000000001 196.9L114.24000000000001 199.6L111.24000000000001 199.6Z" fill="#222"/><path d="M31.38 182.10 C32.46 182.47 35.99 184.99 38.16 184.40 C40.33 183.81 42.77 179.12 44.94 178.40 C47.11 177.68 49.55 179.42 51.72 179.90 C53.89 180.38 56.33 180.81 58.50 181.40 C60.67 181.99 63.11 183.60 65.28 183.60 C67.45 183.60 69.89 182.23 72.06 181.40 C74.23 180.57 76.67 178.30 78.84 178.40 C81.01 178.50 84.54 181.42 85.62 182.00" fill="none" stroke="#f5821f" stroke-width="3.3" stroke-linecap="round"/><path d="M92.40 175.90 C93.48 175.29 97.01 173.06 99.18 172.10 C101.35 171.14 103.79 169.66 105.96 169.90 C108.13 170.14 111.66 173.01 112.74 173.60" fill="none" stroke="#1ea7e8" stroke-width="4.1" stroke-linecap="round"/><rect x="30.38" y="181.1" width="2.0" height="2.0" rx="0.8" fill="#a9b4bc"/><rect x="37.16" y="183.4" width="2.0" height="2.0" rx="0.8" fill="#a9b4bc"/><rect x="43.94" y="177.4" width="2.0" height="2.0" rx="0.8" fill="#a9b4bc"/><rect x="50.72" y="178.9" width="2.0" height="2.0" rx="0.8" fill="#a9b4bc"/><rect x="57.50" y="180.4" width="2.0" height="2.0" rx="0.8" fill="#a9b4bc"/><rect x="64.28" y="182.6" width="2.0" height="2.0" rx="0.8" fill="#a9b4bc"/><rect x="71.06" y="180.4" width="2.0" height="2.0" rx="0.8" fill="#a9b4bc"/><rect x="77.84" y="177.4" width="2.0" height="2.0" rx="0.8" fill="#a9b4bc"/><rect x="84.62" y="181.0" width="2.0" height="2.0" rx="0.8" fill="#a9b4bc"/><path d="M92.4 186.3L93.9 187.8L92.4 189.3L90.9 187.8Z" fill="#222"/><path d="M99.18 182.5L100.68 184L99.18 185.5L97.68 184Z" fill="#222"/><path d="M105.96000000000001 181.8L107.46000000000001 183.3L105.96000000000001 184.8L104.46000000000001 183.3Z" fill="#222"/><path d="M112.74000000000001 184.8L114.24000000000001 186.3L112.74000000000001 187.8L111.24000000000001 186.3Z" fill="#222"/><path d="M130.53 162.29999999999998L133.13000000000002 164.9M133.13000000000002 162.29999999999998L130.53 164.9" stroke="#4a4a4a" stroke-width="0.6"/><rect x="130.48" y="165.65" width="2.7" height="2.3" rx="0.5" fill="#979797"/><rect x="130.48" y="168.17" width="2.7" height="2.3" rx="0.5" fill="#c8c8c8"/><rect x="130.48" y="170.69" width="2.7" height="2.3" rx="0.5" fill="#b2b2b2"/><rect x="130.48" y="173.21" width="2.7" height="2.3" rx="0.5" fill="#d2d2d2"/><rect x="130.48" y="175.73" width="2.7" height="2.3" rx="0.5" fill="#a2a2a2"/><rect x="130.48" y="178.25" width="2.7" height="2.3" rx="0.5" fill="#cbcfd2"/><rect x="130.48" y="180.77" width="2.7" height="2.3" rx="0.5" fill="#d8d8d8"/><rect x="130.48" y="183.29" width="2.7" height="2.3" rx="0.5" fill="#979797"/><rect x="130.48" y="185.81" width="2.7" height="2.3" rx="0.5" fill="#c8c8c8"/><rect x="130.48" y="188.33" width="2.7" height="2.3" rx="0.5" fill="#b2b2b2"/><rect x="130.48" y="190.85" width="2.7" height="2.3" rx="0.5" fill="#7a7a7a"/><path d="M131.83 192.5L133.33 194L131.83 195.5L130.33 194Z" fill="#222"/><path d="M131.83 200.3L133.33 203.0L130.33 203.0Z" fill="#222"/><path d="M137.35999999999999 163.0L139.96 165.60000000000002M139.96 163.0L137.35999999999999 165.60000000000002" stroke="#4a4a4a" stroke-width="0.6"/><rect x="137.31" y="166.35" width="2.7" height="2.3" rx="0.5" fill="#979797"/><rect x="137.31" y="168.80" width="2.7" height="2.3" rx="0.5" fill="#c8c8c8"/><rect x="137.31" y="171.25" width="2.7" height="2.3" rx="0.5" fill="#b2b2b2"/><rect x="137.31" y="173.70" width="2.7" height="2.3" rx="0.5" fill="#d2d2d2"/><rect x="137.31" y="176.15" width="2.7" height="2.3" rx="0.5" fill="#a2a2a2"/><rect x="137.31" y="178.60" width="2.7" height="2.3" rx="0.5" fill="#cbcfd2"/><rect x="137.31" y="181.05" width="2.7" height="2.3" rx="0.5" fill="#d8d8d8"/><rect x="137.31" y="183.50" width="2.7" height="2.3" rx="0.5" fill="#979797"/><rect x="137.31" y="185.95" width="2.7" height="2.3" rx="0.5" fill="#c8c8c8"/><rect x="137.31" y="188.40" width="2.7" height="2.3" rx="0.5" fill="#b2b2b2"/><rect x="137.31" y="190.85" width="2.7" height="2.3" rx="0.5" fill="#7a7a7a"/><path d="M138.66 193.3L140.16 194.8L138.66 196.3L137.16 194.8Z" fill="#222"/><path d="M138.66 201.1L140.16 203.79999999999998L137.16 203.79999999999998Z" fill="#222"/><path d="M144.19 159.5L146.79000000000002 162.10000000000002M146.79000000000002 159.5L144.19 162.10000000000002" stroke="#4a4a4a" stroke-width="0.6"/><rect x="144.14" y="162.85" width="2.7" height="2.3" rx="0.5" fill="#979797"/><rect x="144.14" y="165.40" width="2.7" height="2.3" rx="0.5" fill="#c8c8c8"/><rect x="144.14" y="167.94" width="2.7" height="2.3" rx="0.5" fill="#b2b2b2"/><rect x="144.14" y="170.49" width="2.7" height="2.3" rx="0.5" fill="#d2d2d2"/><rect x="144.14" y="173.03" width="2.7" height="2.3" rx="0.5" fill="#a2a2a2"/><rect x="144.14" y="175.58" width="2.7" height="2.3" rx="0.5" fill="#cbcfd2"/><rect x="144.14" y="178.12" width="2.7" height="2.3" rx="0.5" fill="#d8d8d8"/><rect x="144.14" y="180.67" width="2.7" height="2.3" rx="0.5" fill="#979797"/><rect x="144.14" y="183.21" width="2.7" height="2.3" rx="0.5" fill="#c8c8c8"/><rect x="144.14" y="185.76" width="2.7" height="2.3" rx="0.5" fill="#b2b2b2"/><rect x="144.14" y="188.30" width="2.7" height="2.3" rx="0.5" fill="#d2d2d2"/><rect x="144.14" y="190.85" width="2.7" height="2.3" rx="0.5" fill="#555555"/><path d="M145.49 193.5L146.99 195L145.49 196.5L143.99 195Z" fill="#222"/><path d="M145.49 201.5L146.99 204.2L143.99 204.2Z" fill="#222"/><path d="M151.01999999999998 159.2L153.62 161.8M153.62 159.2L151.01999999999998 161.8" stroke="#4a4a4a" stroke-width="0.6"/><rect x="150.97" y="162.55" width="2.7" height="2.3" rx="0.5" fill="#979797"/><rect x="150.97" y="164.94" width="2.7" height="2.3" rx="0.5" fill="#c8c8c8"/><rect x="150.97" y="167.33" width="2.7" height="2.3" rx="0.5" fill="#b2b2b2"/><rect x="150.97" y="169.72" width="2.7" height="2.3" rx="0.5" fill="#d2d2d2"/><rect x="150.97" y="172.11" width="2.7" height="2.3" rx="0.5" fill="#a2a2a2"/><rect x="150.97" y="174.50" width="2.7" height="2.3" rx="0.5" fill="#cbcfd2"/><rect x="150.97" y="176.90" width="2.7" height="2.3" rx="0.5" fill="#d8d8d8"/><rect x="150.97" y="179.29" width="2.7" height="2.3" rx="0.5" fill="#979797"/><rect x="150.97" y="181.68" width="2.7" height="2.3" rx="0.5" fill="#c8c8c8"/><rect x="150.97" y="184.07" width="2.7" height="2.3" rx="0.5" fill="#b2b2b2"/><rect x="150.97" y="186.46" width="2.7" height="2.3" rx="0.5" fill="#d2d2d2"/><rect x="150.97" y="188.85" width="2.7" height="2.3" rx="0.5" fill="#a2a2a2"/><path d="M152.32 190.5L153.82 192L152.32 193.5L150.82 192Z" fill="#222"/><path d="M152.32 197.3L153.82 200.0L150.82 200.0Z" fill="#222"/><path d="M157.85 159.5L160.45000000000002 162.10000000000002M160.45000000000002 159.5L157.85 162.10000000000002" stroke="#4a4a4a" stroke-width="0.6"/><rect x="157.80" y="162.85" width="2.7" height="2.3" rx="0.5" fill="#979797"/><rect x="157.80" y="165.35" width="2.7" height="2.3" rx="0.5" fill="#c8c8c8"/><rect x="157.80" y="167.85" width="2.7" height="2.3" rx="0.5" fill="#b2b2b2"/><rect x="157.80" y="170.35" width="2.7" height="2.3" rx="0.5" fill="#d2d2d2"/><rect x="157.80" y="172.85" width="2.7" height="2.3" rx="0.5" fill="#a2a2a2"/><rect x="157.80" y="175.35" width="2.7" height="2.3" rx="0.5" fill="#cbcfd2"/><rect x="157.80" y="177.85" width="2.7" height="2.3" rx="0.5" fill="#d8d8d8"/><rect x="157.80" y="180.35" width="2.7" height="2.3" rx="0.5" fill="#979797"/><rect x="157.80" y="182.85" width="2.7" height="2.3" rx="0.5" fill="#c8c8c8"/><rect x="157.80" y="185.35" width="2.7" height="2.3" rx="0.5" fill="#b2b2b2"/><rect x="157.80" y="187.85" width="2.7" height="2.3" rx="0.5" fill="#d2d2d2"/><path d="M159.15 189.8L160.65 191.3L159.15 192.8L157.65 191.3Z" fill="#222"/><path d="M159.15 196.5L160.65 199.2L157.65 199.2Z" fill="#222"/><path d="M164.68 163.0L167.28000000000003 165.60000000000002M167.28000000000003 163.0L164.68 165.60000000000002" stroke="#4a4a4a" stroke-width="0.6"/><rect x="164.63" y="166.35" width="2.7" height="2.3" rx="0.5" fill="#979797"/><rect x="164.63" y="168.80" width="2.7" height="2.3" rx="0.5" fill="#c8c8c8"/><rect x="164.63" y="171.25" width="2.7" height="2.3" rx="0.5" fill="#b2b2b2"/><rect x="164.63" y="173.70" width="2.7" height="2.3" rx="0.5" fill="#d2d2d2"/><rect x="164.63" y="176.15" width="2.7" height="2.3" rx="0.5" fill="#a2a2a2"/><rect x="164.63" y="178.60" width="2.7" height="2.3" rx="0.5" fill="#cbcfd2"/><rect x="164.63" y="181.05" width="2.7" height="2.3" rx="0.5" fill="#d8d8d8"/><rect x="164.63" y="183.50" width="2.7" height="2.3" rx="0.5" fill="#979797"/><rect x="164.63" y="185.95" width="2.7" height="2.3" rx="0.5" fill="#c8c8c8"/><rect x="164.63" y="188.40" width="2.7" height="2.3" rx="0.5" fill="#b2b2b2"/><rect x="164.63" y="190.85" width="2.7" height="2.3" rx="0.5" fill="#7a7a7a"/><path d="M165.98000000000002 193.5L167.48000000000002 195L165.98000000000002 196.5L164.48000000000002 195Z" fill="#222"/><path d="M165.98000000000002 201.9L167.48000000000002 204.6L164.48000000000002 204.6Z" fill="#222"/><path d="M171.51 161.0L174.11 163.60000000000002M174.11 161.0L171.51 163.60000000000002" stroke="#4a4a4a" stroke-width="0.6"/><rect x="171.46" y="164.35" width="2.7" height="2.3" rx="0.5" fill="#979797"/><rect x="171.46" y="166.90" width="2.7" height="2.3" rx="0.5" fill="#c8c8c8"/><rect x="171.46" y="169.45" width="2.7" height="2.3" rx="0.5" fill="#b2b2b2"/><rect x="171.46" y="172.00" width="2.7" height="2.3" rx="0.5" fill="#d2d2d2"/><rect x="171.46" y="174.55" width="2.7" height="2.3" rx="0.5" fill="#a2a2a2"/><rect x="171.46" y="177.10" width="2.7" height="2.3" rx="0.5" fill="#cbcfd2"/><rect x="171.46" y="179.65" width="2.7" height="2.3" rx="0.5" fill="#d8d8d8"/><rect x="171.46" y="182.20" width="2.7" height="2.3" rx="0.5" fill="#979797"/><rect x="171.46" y="184.75" width="2.7" height="2.3" rx="0.5" fill="#c8c8c8"/><rect x="171.46" y="187.30" width="2.7" height="2.3" rx="0.5" fill="#b2b2b2"/><rect x="171.46" y="189.85" width="2.7" height="2.3" rx="0.5" fill="#7a7a7a"/><path d="M172.81 191.5L174.31 193L172.81 194.5L171.31 193Z" fill="#222"/><path d="M172.81 199.1L174.31 201.79999999999998L171.31 201.79999999999998Z" fill="#222"/><path d="M178.33999999999997 161.0L180.94 163.60000000000002M180.94 161.0L178.33999999999997 163.60000000000002" stroke="#4a4a4a" stroke-width="0.6"/><rect x="178.29" y="164.35" width="2.7" height="2.3" rx="0.5" fill="#979797"/><rect x="178.29" y="166.90" width="2.7" height="2.3" rx="0.5" fill="#c8c8c8"/><rect x="178.29" y="169.45" width="2.7" height="2.3" rx="0.5" fill="#b2b2b2"/><rect x="178.29" y="172.00" width="2.7" height="2.3" rx="0.5" fill="#d2d2d2"/><rect x="178.29" y="174.55" width="2.7" height="2.3" rx="0.5" fill="#a2a2a2"/><rect x="178.29" y="177.10" width="2.7" height="2.3" rx="0.5" fill="#cbcfd2"/><rect x="178.29" y="179.65" width="2.7" height="2.3" rx="0.5" fill="#d8d8d8"/><rect x="178.29" y="182.20" width="2.7" height="2.3" rx="0.5" fill="#979797"/><rect x="178.29" y="184.75" width="2.7" height="2.3" rx="0.5" fill="#c8c8c8"/><rect x="178.29" y="187.30" width="2.7" height="2.3" rx="0.5" fill="#b2b2b2"/><rect x="178.29" y="189.85" width="2.7" height="2.3" rx="0.5" fill="#7a7a7a"/><path d="M179.64 191.5L181.14 193L179.64 194.5L178.14 193Z" fill="#222"/><path d="M179.64 199.1L181.14 201.79999999999998L178.14 201.79999999999998Z" fill="#222"/><path d="M185.17 162.5L187.77 165.10000000000002M187.77 162.5L185.17 165.10000000000002" stroke="#4a4a4a" stroke-width="0.6"/><rect x="185.12" y="165.85" width="2.7" height="2.3" rx="0.5" fill="#979797"/><rect x="185.12" y="168.25" width="2.7" height="2.3" rx="0.5" fill="#c8c8c8"/><rect x="185.12" y="170.65" width="2.7" height="2.3" rx="0.5" fill="#b2b2b2"/><rect x="185.12" y="173.05" width="2.7" height="2.3" rx="0.5" fill="#d2d2d2"/><rect x="185.12" y="175.45" width="2.7" height="2.3" rx="0.5" fill="#a2a2a2"/><rect x="185.12" y="177.85" width="2.7" height="2.3" rx="0.5" fill="#cbcfd2"/><rect x="185.12" y="180.25" width="2.7" height="2.3" rx="0.5" fill="#d8d8d8"/><rect x="185.12" y="182.65" width="2.7" height="2.3" rx="0.5" fill="#979797"/><rect x="185.12" y="185.05" width="2.7" height="2.3" rx="0.5" fill="#c8c8c8"/><rect x="185.12" y="187.45" width="2.7" height="2.3" rx="0.5" fill="#b2b2b2"/><rect x="185.12" y="189.85" width="2.7" height="2.3" rx="0.5" fill="#7a7a7a"/><path d="M186.47 192.1L187.97 193.6L186.47 195.1L184.97 193.6Z" fill="#222"/><path d="M186.47 200.6L187.97 203.29999999999998L184.97 203.29999999999998Z" fill="#222"/><rect x="192.00" y="158.70" width="2.6" height="2.6" fill="#4a4a4a"/><path d="M192.10000000000002 162.0L194.5 164.39999999999998M194.5 162.0L192.10000000000002 164.39999999999998" stroke="#5a5a5a" stroke-width="0.6"/><rect x="191.95" y="162.05" width="2.7" height="2.3" rx="0.5" fill="#979797"/><rect x="191.95" y="164.50" width="2.7" height="2.3" rx="0.5" fill="#c8c8c8"/><rect x="191.95" y="166.96" width="2.7" height="2.3" rx="0.5" fill="#b2b2b2"/><rect x="191.95" y="169.41" width="2.7" height="2.3" rx="0.5" fill="#d2d2d2"/><rect x="191.95" y="171.86" width="2.7" height="2.3" rx="0.5" fill="#a2a2a2"/><rect x="191.95" y="174.32" width="2.7" height="2.3" rx="0.5" fill="#cbcfd2"/><rect x="191.95" y="176.77" width="2.7" height="2.3" rx="0.5" fill="#d8d8d8"/><rect x="191.95" y="179.22" width="2.7" height="2.3" rx="0.5" fill="#979797"/><rect x="191.95" y="181.68" width="2.7" height="2.3" rx="0.5" fill="#c8c8c8"/><rect x="191.95" y="184.13" width="2.7" height="2.3" rx="0.5" fill="#b2b2b2"/><rect x="191.95" y="186.58" width="2.7" height="2.3" rx="0.5" fill="#d2d2d2"/><rect x="191.95" y="189.04" width="2.7" height="2.3" rx="0.5" fill="#a2a2a2"/><rect x="191.95" y="191.49" width="2.7" height="2.3" rx="0.5" fill="#5e5e5e"/><rect x="191.95" y="193.94" width="2.7" height="2.3" rx="0.5" fill="#7a7a7a"/><rect x="191.95" y="196.40" width="2.7" height="2.3" rx="0.5" fill="#555555"/><rect x="191.95" y="198.85" width="2.7" height="2.3" rx="0.5" fill="#5e5e5e"/><path d="M193.3 193.8L194.8 195.3L193.3 196.8L191.8 195.3Z" fill="#222"/><path d="M193.3 202.1L194.8 204.79999999999998L191.8 204.79999999999998Z" fill="#222"/><rect x="198.83" y="149.00" width="2.6" height="2.6" fill="#4a4a4a"/><path d="M198.93 152.3L201.32999999999998 154.7M201.32999999999998 152.3L198.93 154.7" stroke="#5a5a5a" stroke-width="0.6"/><rect x="198.78" y="152.35" width="2.7" height="2.3" rx="0.5" fill="#979797"/><rect x="198.78" y="154.81" width="2.7" height="2.3" rx="0.5" fill="#c8c8c8"/><rect x="198.78" y="157.28" width="2.7" height="2.3" rx="0.5" fill="#b2b2b2"/><rect x="198.78" y="159.74" width="2.7" height="2.3" rx="0.5" fill="#d2d2d2"/><rect x="198.78" y="162.21" width="2.7" height="2.3" rx="0.5" fill="#a2a2a2"/><rect x="198.78" y="164.67" width="2.7" height="2.3" rx="0.5" fill="#cbcfd2"/><rect x="198.78" y="167.14" width="2.7" height="2.3" rx="0.5" fill="#d8d8d8"/><rect x="198.78" y="169.60" width="2.7" height="2.3" rx="0.5" fill="#979797"/><rect x="198.78" y="172.06" width="2.7" height="2.3" rx="0.5" fill="#c8c8c8"/><rect x="198.78" y="174.53" width="2.7" height="2.3" rx="0.5" fill="#b2b2b2"/><rect x="198.78" y="176.99" width="2.7" height="2.3" rx="0.5" fill="#d2d2d2"/><rect x="198.78" y="179.46" width="2.7" height="2.3" rx="0.5" fill="#a2a2a2"/><rect x="198.78" y="181.92" width="2.7" height="2.3" rx="0.5" fill="#cbcfd2"/><rect x="198.78" y="184.39" width="2.7" height="2.3" rx="0.5" fill="#d8d8d8"/><rect x="198.78" y="186.85" width="2.7" height="2.3" rx="0.5" fill="#979797"/><path d="M200.13 181.8L201.63 183.3L200.13 184.8L198.63 183.3Z" fill="#222"/><path d="M200.13 189.3L201.63 192.0L198.63 192.0Z" fill="#222"/><rect x="205.66" y="154.50" width="2.6" height="2.6" fill="#4a4a4a"/><path d="M205.76000000000002 157.8L208.16 160.2M208.16 157.8L205.76000000000002 160.2" stroke="#5a5a5a" stroke-width="0.6"/><rect x="205.61" y="157.85" width="2.7" height="2.3" rx="0.5" fill="#979797"/><rect x="205.61" y="160.32" width="2.7" height="2.3" rx="0.5" fill="#c8c8c8"/><rect x="205.61" y="162.78" width="2.7" height="2.3" rx="0.5" fill="#b2b2b2"/><rect x="205.61" y="165.25" width="2.7" height="2.3" rx="0.5" fill="#d2d2d2"/><rect x="205.61" y="167.72" width="2.7" height="2.3" rx="0.5" fill="#a2a2a2"/><rect x="205.61" y="170.18" width="2.7" height="2.3" rx="0.5" fill="#cbcfd2"/><rect x="205.61" y="172.65" width="2.7" height="2.3" rx="0.5" fill="#d8d8d8"/><rect x="205.61" y="175.12" width="2.7" height="2.3" rx="0.5" fill="#979797"/><rect x="205.61" y="177.58" width="2.7" height="2.3" rx="0.5" fill="#c8c8c8"/><rect x="205.61" y="180.05" width="2.7" height="2.3" rx="0.5" fill="#b2b2b2"/><rect x="205.61" y="182.52" width="2.7" height="2.3" rx="0.5" fill="#d2d2d2"/><rect x="205.61" y="184.98" width="2.7" height="2.3" rx="0.5" fill="#a2a2a2"/><rect x="205.61" y="187.45" width="2.7" height="2.3" rx="0.5" fill="#cbcfd2"/><rect x="205.61" y="189.92" width="2.7" height="2.3" rx="0.5" fill="#7a7a7a"/><rect x="205.61" y="192.38" width="2.7" height="2.3" rx="0.5" fill="#555555"/><rect x="205.61" y="194.85" width="2.7" height="2.3" rx="0.5" fill="#5e5e5e"/><path d="M206.96 188.5L208.46 190L206.96 191.5L205.46 190Z" fill="#222"/><path d="M206.96 196.9L208.46 199.6L205.46 199.6Z" fill="#222"/><rect x="212.49" y="156.50" width="2.6" height="2.6" fill="#4a4a4a"/><path d="M212.59000000000003 159.8L214.99 162.2M214.99 159.8L212.59000000000003 162.2" stroke="#5a5a5a" stroke-width="0.6"/><rect x="212.44" y="159.85" width="2.7" height="2.3" rx="0.5" fill="#979797"/><rect x="212.44" y="162.32" width="2.7" height="2.3" rx="0.5" fill="#c8c8c8"/><rect x="212.44" y="164.78" width="2.7" height="2.3" rx="0.5" fill="#b2b2b2"/><rect x="212.44" y="167.25" width="2.7" height="2.3" rx="0.5" fill="#d2d2d2"/><rect x="212.44" y="169.72" width="2.7" height="2.3" rx="0.5" fill="#a2a2a2"/><rect x="212.44" y="172.18" width="2.7" height="2.3" rx="0.5" fill="#cbcfd2"/><rect x="212.44" y="174.65" width="2.7" height="2.3" rx="0.5" fill="#d8d8d8"/><rect x="212.44" y="177.12" width="2.7" height="2.3" rx="0.5" fill="#979797"/><rect x="212.44" y="179.58" width="2.7" height="2.3" rx="0.5" fill="#c8c8c8"/><rect x="212.44" y="182.05" width="2.7" height="2.3" rx="0.5" fill="#b2b2b2"/><rect x="212.44" y="184.52" width="2.7" height="2.3" rx="0.5" fill="#d2d2d2"/><rect x="212.44" y="186.98" width="2.7" height="2.3" rx="0.5" fill="#a2a2a2"/><rect x="212.44" y="189.45" width="2.7" height="2.3" rx="0.5" fill="#5e5e5e"/><rect x="212.44" y="191.92" width="2.7" height="2.3" rx="0.5" fill="#7a7a7a"/><rect x="212.44" y="194.38" width="2.7" height="2.3" rx="0.5" fill="#555555"/><rect x="212.44" y="196.85" width="2.7" height="2.3" rx="0.5" fill="#5e5e5e"/><path d="M213.79000000000002 191.5L215.29000000000002 193L213.79000000000002 194.5L212.29000000000002 193Z" fill="#222"/><path d="M213.79000000000002 199.9L215.29000000000002 202.6L212.29000000000002 202.6Z" fill="#222"/><path d="M131.83 180.90 C132.92 181.01 136.47 181.81 138.66 181.60 C140.85 181.39 143.30 180.11 145.49 179.60 C147.68 179.09 150.13 178.74 152.32 178.40 C154.51 178.06 156.96 176.92 159.15 177.50 C161.34 178.08 163.79 181.55 165.98 182.00 C168.17 182.45 170.62 180.57 172.81 180.30 C175.00 180.03 177.45 180.30 179.64 180.30 C181.83 180.30 185.38 180.30 186.47 180.30" fill="none" stroke="#f5821f" stroke-width="3.9" stroke-linecap="round"/><path d="M193.30 184.00 C194.39 181.98 197.94 172.46 200.13 171.40 C202.32 170.34 204.77 175.83 206.96 177.40 C209.15 178.97 212.70 180.59 213.79 181.20" fill="none" stroke="#1ea7e8" stroke-width="4.0" stroke-linecap="round"/><rect x="130.83" y="179.9" width="2.0" height="2.0" rx="0.8" fill="#a9b4bc"/><rect x="137.66" y="180.6" width="2.0" height="2.0" rx="0.8" fill="#a9b4bc"/><rect x="144.49" y="178.6" width="2.0" height="2.0" rx="0.8" fill="#a9b4bc"/><rect x="151.32" y="177.4" width="2.0" height="2.0" rx="0.8" fill="#a9b4bc"/><rect x="158.15" y="176.5" width="2.0" height="2.0" rx="0.8" fill="#a9b4bc"/><rect x="164.98" y="181.0" width="2.0" height="2.0" rx="0.8" fill="#a9b4bc"/><rect x="171.81" y="179.3" width="2.0" height="2.0" rx="0.8" fill="#a9b4bc"/><rect x="178.64" y="179.3" width="2.0" height="2.0" rx="0.8" fill="#a9b4bc"/><rect x="185.47" y="179.3" width="2.0" height="2.0" rx="0.8" fill="#a9b4bc"/><path d="M234.05 190.10 C235.15 190.34 238.71 192.08 240.90 191.60 C243.09 191.12 245.56 187.21 247.75 187.10 C249.94 186.99 252.41 190.18 254.60 190.90 C256.79 191.62 259.26 191.73 261.45 191.60 C263.64 191.47 266.11 190.45 268.30 190.10 C270.49 189.75 272.96 189.88 275.15 189.40 C277.34 188.92 279.81 186.99 282.00 187.10 C284.19 187.21 287.75 189.62 288.85 190.10" fill="none" stroke="#f5821f" stroke-width="3.1" stroke-linecap="round"/><path d="M295.70 180.30 C296.80 181.52 300.36 188.01 302.55 187.90 C304.74 187.79 307.21 180.93 309.40 179.60 C311.59 178.27 315.15 179.60 316.25 179.60" fill="none" stroke="#1ea7e8" stroke-width="4.4" stroke-linecap="round"/><rect x="233.00" y="185.10" width="2.1" height="10.90" rx="0.9" fill="#c3ccd3" stroke="#9a9a9a" stroke-width="0.45"/><rect x="232.85" y="183.70" width="2.4" height="2.6" rx="0.6" fill="#2e2e2e"/><rect x="232.95" y="194.70" width="2.2" height="2.0" fill="#6a6a6a"/><rect x="239.85" y="186.30" width="2.1" height="9.70" rx="0.9" fill="#c3ccd3" stroke="#9a9a9a" stroke-width="0.45"/><rect x="239.70" y="184.90" width="2.4" height="2.6" rx="0.6" fill="#2e2e2e"/><rect x="239.80" y="194.70" width="2.2" height="2.0" fill="#6a6a6a"/><rect x="246.70" y="187.00" width="2.1" height="4.00" rx="0.9" fill="#c3ccd3" stroke="#9a9a9a" stroke-width="0.45"/><rect x="246.55" y="185.60" width="2.4" height="2.6" rx="0.6" fill="#2e2e2e"/><rect x="246.65" y="189.70" width="2.2" height="2.0" fill="#6a6a6a"/><rect x="253.55" y="185.50" width="2.1" height="10.50" rx="0.9" fill="#c3ccd3" stroke="#9a9a9a" stroke-width="0.45"/><rect x="253.40" y="184.10" width="2.4" height="2.6" rx="0.6" fill="#2e2e2e"/><rect x="253.50" y="194.70" width="2.2" height="2.0" fill="#6a6a6a"/><rect x="260.40" y="186.00" width="2.1" height="10.50" rx="0.9" fill="#c3ccd3" stroke="#9a9a9a" stroke-width="0.45"/><rect x="260.25" y="184.60" width="2.4" height="2.6" rx="0.6" fill="#2e2e2e"/><rect x="260.35" y="195.20" width="2.2" height="2.0" fill="#6a6a6a"/><rect x="267.25" y="184.00" width="2.1" height="12.00" rx="0.9" fill="#c3ccd3" stroke="#9a9a9a" stroke-width="0.45"/><rect x="267.10" y="182.60" width="2.4" height="2.6" rx="0.6" fill="#2e2e2e"/><rect x="267.20" y="194.70" width="2.2" height="2.0" fill="#6a6a6a"/><rect x="274.10" y="183.60" width="2.1" height="12.40" rx="0.9" fill="#c3ccd3" stroke="#9a9a9a" stroke-width="0.45"/><rect x="273.95" y="182.20" width="2.4" height="2.6" rx="0.6" fill="#2e2e2e"/><rect x="274.05" y="194.70" width="2.2" height="2.0" fill="#6a6a6a"/><rect x="280.95" y="181.30" width="2.1" height="13.70" rx="0.9" fill="#c3ccd3" stroke="#9a9a9a" stroke-width="0.45"/><rect x="280.80" y="179.90" width="2.4" height="2.6" rx="0.6" fill="#2e2e2e"/><rect x="280.90" y="193.70" width="2.2" height="2.0" fill="#6a6a6a"/><rect x="287.80" y="185.10" width="2.1" height="10.90" rx="0.9" fill="#c3ccd3" stroke="#9a9a9a" stroke-width="0.45"/><rect x="287.65" y="183.70" width="2.4" height="2.6" rx="0.6" fill="#2e2e2e"/><rect x="287.75" y="194.70" width="2.2" height="2.0" fill="#6a6a6a"/><rect x="294.65" y="178.50" width="2.1" height="5.50" rx="0.9" fill="#c3ccd3" stroke="#9a9a9a" stroke-width="0.45"/><path d="M294.5 176.3L296.9 178.7M296.9 176.3L294.5 178.7" stroke="#606060" stroke-width="0.6"/><rect x="294.60" y="182.70" width="2.2" height="2.0" fill="#6a6a6a"/><rect x="301.50" y="183.00" width="2.1" height="10.70" rx="0.9" fill="#c3ccd3" stroke="#9a9a9a" stroke-width="0.45"/><path d="M301.34999999999997 180.8L303.74999999999994 183.2M303.74999999999994 180.8L301.34999999999997 183.2" stroke="#606060" stroke-width="0.6"/><rect x="301.45" y="192.40" width="2.2" height="2.0" fill="#6a6a6a"/><rect x="308.35" y="172.30" width="2.1" height="15.70" rx="0.9" fill="#c3ccd3" stroke="#9a9a9a" stroke-width="0.45"/><path d="M308.2 170.10000000000002L310.59999999999997 172.5M310.59999999999997 170.10000000000002L308.2 172.5" stroke="#606060" stroke-width="0.6"/><rect x="308.30" y="186.70" width="2.2" height="2.0" fill="#6a6a6a"/><rect x="315.20" y="171.50" width="2.1" height="16.50" rx="0.9" fill="#c3ccd3" stroke="#9a9a9a" stroke-width="0.45"/><path d="M315.05 169.3L317.45 171.7M317.45 169.3L315.05 171.7" stroke="#606060" stroke-width="0.6"/><rect x="315.15" y="186.70" width="2.2" height="2.0" fill="#6a6a6a"/><line x1="125.5" y1="13.5" x2="125.5" y2="105.2" stroke="#5a5a5a" stroke-width="1.1"/><line x1="228.5" y1="13.5" x2="228.5" y2="105.2" stroke="#5a5a5a" stroke-width="1.1"/><path d="M25.4 13.5H328.8V105.2H25.4Z" fill="none" stroke="#5a5a5a" stroke-width="1.1"/><line x1="125.4" y1="142.6" x2="125.4" y2="235" stroke="#9c9c9c" stroke-width="1.5"/><line x1="227.5" y1="142.6" x2="227.5" y2="235" stroke="#9c9c9c" stroke-width="1.5"/><path d="M24.8 142.6H329.6V235H24.8Z" fill="none" stroke="#5a5a5a" stroke-width="1.1"/><line x1="23.799999999999997" y1="13.20" x2="25.4" y2="13.20" stroke="#5a5a5a" stroke-width="0.9"/><line x1="23.799999999999997" y1="36.15" x2="25.4" y2="36.15" stroke="#5a5a5a" stroke-width="0.9"/><line x1="23.799999999999997" y1="59.10" x2="25.4" y2="59.10" stroke="#5a5a5a" stroke-width="0.9"/><line x1="23.799999999999997" y1="82.05" x2="25.4" y2="82.05" stroke="#5a5a5a" stroke-width="0.9"/><line x1="23.799999999999997" y1="105.00" x2="25.4" y2="105.00" stroke="#5a5a5a" stroke-width="0.9"/><line x1="23.2" y1="143.10" x2="24.8" y2="143.10" stroke="#5a5a5a" stroke-width="0.9"/><line x1="23.2" y1="166.05" x2="24.8" y2="166.05" stroke="#5a5a5a" stroke-width="0.9"/><line x1="23.2" y1="189.00" x2="24.8" y2="189.00" stroke="#5a5a5a" stroke-width="0.9"/><line x1="23.2" y1="211.95" x2="24.8" y2="211.95" stroke="#5a5a5a" stroke-width="0.9"/><line x1="23.2" y1="234.90" x2="24.8" y2="234.90" stroke="#5a5a5a" stroke-width="0.9"/><line x1="25.20" y1="105.2" x2="25.20" y2="106.8" stroke="#5a5a5a" stroke-width="0.9"/><line x1="59.20" y1="105.2" x2="59.20" y2="106.8" stroke="#5a5a5a" stroke-width="0.9"/><line x1="93.20" y1="105.2" x2="93.20" y2="106.8" stroke="#5a5a5a" stroke-width="0.9"/><line x1="125.40" y1="105.2" x2="125.40" y2="106.8" stroke="#5a5a5a" stroke-width="0.9"/><line x1="159.40" y1="105.2" x2="159.40" y2="106.8" stroke="#5a5a5a" stroke-width="0.9"/><line x1="193.40" y1="105.2" x2="193.40" y2="106.8" stroke="#5a5a5a" stroke-width="0.9"/><line x1="228.50" y1="105.2" x2="228.50" y2="106.8" stroke="#5a5a5a" stroke-width="0.9"/><line x1="262.00" y1="105.2" x2="262.00" y2="106.8" stroke="#5a5a5a" stroke-width="0.9"/><line x1="295.50" y1="105.2" x2="295.50" y2="106.8" stroke="#5a5a5a" stroke-width="0.9"/><line x1="329.00" y1="105.2" x2="329.00" y2="106.8" stroke="#5a5a5a" stroke-width="0.9"/><line x1="24.90" y1="235" x2="24.90" y2="236.6" stroke="#5a5a5a" stroke-width="0.9"/><line x1="58.65" y1="235" x2="58.65" y2="236.6" stroke="#5a5a5a" stroke-width="0.9"/><line x1="92.40" y1="235" x2="92.40" y2="236.6" stroke="#5a5a5a" stroke-width="0.9"/><line x1="125.00" y1="235" x2="125.00" y2="236.6" stroke="#5a5a5a" stroke-width="0.9"/><line x1="158.90" y1="235" x2="158.90" y2="236.6" stroke="#5a5a5a" stroke-width="0.9"/><line x1="192.80" y1="235" x2="192.80" y2="236.6" stroke="#5a5a5a" stroke-width="0.9"/><line x1="227.40" y1="235" x2="227.40" y2="236.6" stroke="#5a5a5a" stroke-width="0.9"/><line x1="261.15" y1="235" x2="261.15" y2="236.6" stroke="#5a5a5a" stroke-width="0.9"/><line x1="294.90" y1="235" x2="294.90" y2="236.6" stroke="#5a5a5a" stroke-width="0.9"/><line x1="328.65" y1="235" x2="328.65" y2="236.6" stroke="#5a5a5a" stroke-width="0.9"/><text x="19.8" y="16.40" font-size="6.9" text-anchor="end" font-weight="normal" fill="#222" stroke="#222" stroke-width="0.18" >1.0</text><text x="19.8" y="39.20" font-size="6.9" text-anchor="end" font-weight="normal" fill="#222" stroke="#222" stroke-width="0.18" >0.5</text><text x="19.8" y="62.00" font-size="6.9" text-anchor="end" font-weight="normal" fill="#222" stroke="#222" stroke-width="0.18" >0</text><text x="19.8" y="84.80" font-size="6.9" text-anchor="end" font-weight="normal" fill="#222" stroke="#222" stroke-width="0.18" >-0.5</text><text x="19.8" y="107.60" font-size="6.9" text-anchor="end" font-weight="normal" fill="#222" stroke="#222" stroke-width="0.18" >-1.0</text><text x="19.4" y="146.00" font-size="6.9" text-anchor="end" font-weight="normal" fill="#222" stroke="#222" stroke-width="0.18" >1.0</text><text x="19.4" y="168.75" font-size="6.9" text-anchor="end" font-weight="normal" fill="#222" stroke="#222" stroke-width="0.18" >0.5</text><text x="19.4" y="191.50" font-size="6.9" text-anchor="end" font-weight="normal" fill="#222" stroke="#222" stroke-width="0.18" >0</text><text x="19.4" y="214.25" font-size="6.9" text-anchor="end" font-weight="normal" fill="#222" stroke="#222" stroke-width="0.18" >-0.5</text><text x="19.4" y="237.00" font-size="6.9" text-anchor="end" font-weight="normal" fill="#222" stroke="#222" stroke-width="0.18" >-1.0</text><text x="25.2" y="114.4" font-size="6.9" text-anchor="middle" font-weight="normal" fill="#222" stroke="#222" stroke-width="0.18" >0</text><text x="59.2" y="114.4" font-size="6.9" text-anchor="middle" font-weight="normal" fill="#222" stroke="#222" stroke-width="0.18" >5</text><text x="93.2" y="114.4" font-size="6.9" text-anchor="middle" font-weight="normal" fill="#222" stroke="#222" stroke-width="0.18" >10</text><text x="125.5" y="114.4" font-size="6.9" text-anchor="middle" font-weight="normal" fill="#222" stroke="#222" stroke-width="0.18" >0</text><text x="159.8" y="114.4" font-size="6.9" text-anchor="middle" font-weight="normal" fill="#222" stroke="#222" stroke-width="0.18" >5</text><text x="194.10000000000002" y="114.4" font-size="6.9" text-anchor="middle" font-weight="normal" fill="#222" stroke="#222" stroke-width="0.18" >10</text><text x="228.5" y="114.4" font-size="6.9" text-anchor="middle" font-weight="normal" fill="#222" stroke="#222" stroke-width="0.18" >0</text><text x="262.0" y="114.4" font-size="6.9" text-anchor="middle" font-weight="normal" fill="#222" stroke="#222" stroke-width="0.18" >5</text><text x="295.5" y="114.4" font-size="6.9" text-anchor="middle" font-weight="normal" fill="#222" stroke="#222" stroke-width="0.18" >10</text><text x="329.0" y="114.4" font-size="6.9" text-anchor="middle" font-weight="normal" fill="#222" stroke="#222" stroke-width="0.18" >15</text><text x="25.3" y="243.8" font-size="6.9" text-anchor="middle" font-weight="normal" fill="#222" stroke="#222" stroke-width="0.18" >0</text><text x="59.3" y="243.8" font-size="6.9" text-anchor="middle" font-weight="normal" fill="#222" stroke="#222" stroke-width="0.18" >5</text><text x="93.3" y="243.8" font-size="6.9" text-anchor="middle" font-weight="normal" fill="#222" stroke="#222" stroke-width="0.18" >10</text><text x="125.6" y="243.8" font-size="6.9" text-anchor="middle" font-weight="normal" fill="#222" stroke="#222" stroke-width="0.18" >0</text><text x="160.0" y="243.8" font-size="6.9" text-anchor="middle" font-weight="normal" fill="#222" stroke="#222" stroke-width="0.18" >5</text><text x="194.39999999999998" y="243.8" font-size="6.9" text-anchor="middle" font-weight="normal" fill="#222" stroke="#222" stroke-width="0.18" >10</text><text x="228.6" y="243.8" font-size="6.9" text-anchor="middle" font-weight="normal" fill="#222" stroke="#222" stroke-width="0.18" >0</text><text x="261.95" y="243.8" font-size="6.9" text-anchor="middle" font-weight="normal" fill="#222" stroke="#222" stroke-width="0.18" >5</text><text x="295.3" y="243.8" font-size="6.9" text-anchor="middle" font-weight="normal" fill="#222" stroke="#222" stroke-width="0.18" >10</text><text x="328.65" y="243.8" font-size="6.9" text-anchor="middle" font-weight="normal" fill="#222" stroke="#222" stroke-width="0.18" >15</text><text x="75.5" y="121.2" font-size="6.4" text-anchor="middle" font-weight="normal" fill="#222" stroke="#222" stroke-width="0.18" >Beam #</text><text x="176.2" y="121.2" font-size="6.4" text-anchor="middle" font-weight="normal" fill="#222" stroke="#222" stroke-width="0.18" >Beam #</text><text x="278.3" y="121.2" font-size="6.4" text-anchor="middle" font-weight="normal" fill="#222" stroke="#222" stroke-width="0.18" >Beam #</text><text x="75.7" y="249.8" font-size="6.4" text-anchor="middle" font-weight="normal" fill="#222" stroke="#222" stroke-width="0.18" >Beam #</text><text x="176.2" y="249.8" font-size="6.4" text-anchor="middle" font-weight="normal" fill="#222" stroke="#222" stroke-width="0.18" >Beam #</text><text x="278.3" y="249.8" font-size="6.4" text-anchor="middle" font-weight="normal" fill="#222" stroke="#222" stroke-width="0.18" >Beam #</text><text x="31.5" y="99.7" font-size="8.3" fill="#222" stroke="#222" stroke-width="0.4" textLength="14.0" lengthAdjust="spacingAndGlyphs">FFF</text><text x="131.2" y="99.7" font-size="8.3" fill="#222" stroke="#222" stroke-width="0.4" textLength="17.6" lengthAdjust="spacingAndGlyphs">WFF</text><text x="235.3" y="99.7" font-size="8.3" fill="#222" stroke="#222" stroke-width="0.4" textLength="38.0" lengthAdjust="spacingAndGlyphs">FFF - WFF</text><text x="30.4" y="228.9" font-size="8.3" fill="#222" stroke="#222" stroke-width="0.4" textLength="14.0" lengthAdjust="spacingAndGlyphs">FFF</text><text x="130.4" y="228.9" font-size="8.3" fill="#222" stroke="#222" stroke-width="0.4" textLength="17.6" lengthAdjust="spacingAndGlyphs">WFF</text><text x="234.2" y="228.9" font-size="8.3" fill="#222" stroke="#222" stroke-width="0.4" textLength="38.4" lengthAdjust="spacingAndGlyphs">FFF - WFF</text><text x="25.6" y="7.6" font-size="8.7" text-anchor="start" font-weight="bold" fill="#1a1a1a" stroke="#1a1a1a" stroke-width="0.2">(a)</text><text x="25.1" y="137.1" font-size="8.7" text-anchor="start" font-weight="bold" fill="#1a1a1a" stroke="#1a1a1a" stroke-width="0.2">(b)</text><text transform="translate(5.4,53.5) rotate(-90)" font-size="6.6" text-anchor="middle" fill="#222" stroke="#222" stroke-width="0.08">Difference (%)</text><text transform="translate(5.4,182.6) rotate(-90)" font-size="6.6" text-anchor="middle" fill="#222" stroke="#222" stroke-width="0.08">Difference (%)</text><text transform="translate(345.8,16.8) scale(0.83,1)" font-size="4.8" fill="#404040" stroke="#404040" stroke-width="0.12">PR-05P</text><text transform="translate(345.8,23.715) scale(0.83,1)" font-size="4.8" fill="#404040" stroke="#404040" stroke-width="0.12">PROKCG</text><text transform="translate(345.8,30.63) scale(0.83,1)" font-size="4.8" fill="#404040" stroke="#404040" stroke-width="0.12">A1</text><text transform="translate(345.8,37.545) scale(0.83,1)" font-size="4.8" fill="#404040" stroke="#404040" stroke-width="0.12">A12</text><text transform="translate(345.8,44.459999999999994) scale(0.83,1)" font-size="4.8" fill="#404040" stroke="#404040" stroke-width="0.12">2505/3A</text><text transform="translate(345.8,51.375) scale(0.83,1)" font-size="4.8" fill="#404040" stroke="#404040" stroke-width="0.12">2561</text><text transform="translate(345.8,58.29) scale(0.83,1)" font-size="4.8" fill="#404040" stroke="#404040" stroke-width="0.12">2571</text><text transform="translate(345.8,65.205) scale(0.83,1)" font-size="4.8" fill="#404040" stroke="#404040" stroke-width="0.12">2577</text><text transform="translate(345.8,72.11999999999999) scale(0.83,1)" font-size="4.8" fill="#404040" stroke="#404040" stroke-width="0.12">2581</text><text transform="translate(345.8,79.035) scale(0.83,1)" font-size="4.8" fill="#404040" stroke="#404040" stroke-width="0.12">30010</text><text transform="translate(345.8,85.95) scale(0.83,1)" font-size="4.8" fill="#404040" stroke="#404040" stroke-width="0.12">30011</text><text transform="translate(345.8,92.865) scale(0.83,1)" font-size="4.8" fill="#404040" stroke="#404040" stroke-width="0.12">30012</text><text transform="translate(345.8,99.78) scale(0.83,1)" font-size="4.8" fill="#404040" stroke="#404040" stroke-width="0.12">31003</text><text transform="translate(345.8,106.695) scale(0.83,1)" font-size="4.8" fill="#404040" stroke="#404040" stroke-width="0.12">IC10/CC13</text><text transform="translate(344.9,137.1) scale(0.86,1)" font-size="4.6" fill="#555" stroke="#555" stroke-width="0.12">PROKCG</text><text transform="translate(344.9,142.243) scale(0.86,1)" font-size="4.6" fill="#555" stroke="#555" stroke-width="0.12">A2</text><text transform="translate(344.9,147.386) scale(0.86,1)" font-size="4.6" fill="#555" stroke="#555" stroke-width="0.12">T2</text><text transform="translate(344.9,152.529) scale(0.86,1)" font-size="4.6" fill="#555" stroke="#555" stroke-width="0.12">A3</text><text transform="translate(344.9,157.672) scale(0.86,1)" font-size="4.6" fill="#555" stroke="#555" stroke-width="0.12">T1</text><text transform="translate(344.9,162.815) scale(0.86,1)" font-size="4.6" fill="#555" stroke="#555" stroke-width="0.12">A12</text><text transform="translate(344.9,167.958) scale(0.86,1)" font-size="4.6" fill="#555" stroke="#555" stroke-width="0.12">2570</text><text transform="translate(344.9,173.101) scale(0.86,1)" font-size="4.6" fill="#555" stroke="#555" stroke-width="0.12">2580</text><text transform="translate(344.9,178.244) scale(0.86,1)" font-size="4.6" fill="#555" stroke="#555" stroke-width="0.12">2565</text><text transform="translate(344.9,183.387) scale(0.86,1)" font-size="4.6" fill="#555" stroke="#555" stroke-width="0.12">30010</text><text transform="translate(344.9,188.53) scale(0.86,1)" font-size="4.6" fill="#555" stroke="#555" stroke-width="0.12">30011</text><text transform="translate(344.9,193.673) scale(0.86,1)" font-size="4.6" fill="#555" stroke="#555" stroke-width="0.12">30012</text><text transform="translate(344.9,198.81599999999997) scale(0.86,1)" font-size="4.6" fill="#555" stroke="#555" stroke-width="0.12">30013</text><text transform="translate(344.9,203.959) scale(0.86,1)" font-size="4.6" fill="#555" stroke="#555" stroke-width="0.12">31014</text><text transform="translate(344.9,209.10199999999998) scale(0.86,1)" font-size="4.6" fill="#555" stroke="#555" stroke-width="0.12">CC01</text><text transform="translate(344.9,214.245) scale(0.86,1)" font-size="4.6" fill="#555" stroke="#555" stroke-width="0.12">CC04</text><text transform="translate(344.9,219.38799999999998) scale(0.86,1)" font-size="4.6" fill="#555" stroke="#555" stroke-width="0.12">CC08</text><text transform="translate(344.9,224.531) scale(0.86,1)" font-size="4.6" fill="#555" stroke="#555" stroke-width="0.12">CC13</text><text transform="translate(344.9,229.67399999999998) scale(0.86,1)" font-size="4.6" fill="#555" stroke="#555" stroke-width="0.12">CC25</text><text transform="translate(344.9,234.817) scale(0.86,1)" font-size="4.6" fill="#555" stroke="#555" stroke-width="0.12">FC23-C</text><text transform="translate(344.9,239.95999999999998) scale(0.86,1)" font-size="4.6" fill="#555" stroke="#555" stroke-width="0.12">FC65-P</text><text transform="translate(344.9,245.103) scale(0.86,1)" font-size="4.6" fill="#555" stroke="#555" stroke-width="0.12">FC65-G</text><path d="M340.8 13.5L342.3 15.0L340.8 16.5L339.3 15.0Z" fill="#222"/><rect x="339.6" y="20.715" width="2.4" height="2.4" fill="#666"/><path d="M340.8 27.43L342.2 29.95L339.40000000000003 29.95Z" fill="#222"/><path d="M339.7 34.645L341.90000000000003 36.845000000000006M341.90000000000003 34.645L339.7 36.845000000000006" stroke="#aaa" stroke-width="0.6"/><path d="M339.7 41.559999999999995L341.90000000000003 43.76M341.90000000000003 41.559999999999995L339.7 43.76" stroke="#aaa" stroke-width="0.6"/><circle cx="340.8" cy="49.575" r="1.3" fill="#888"/><path d="M339.5 56.49H342.1M340.8 55.190000000000005V57.79" stroke="#aaa" stroke-width="0.6"/><path d="M339.5 63.405H342.1" stroke="#888" stroke-width="0.9"/><path d="M339.5 70.32H342.1" stroke="#222" stroke-width="0.9"/><path d="M340.8 75.735L342.3 77.235L340.8 78.735L339.3 77.235Z" fill="#222"/><rect x="339.6" y="82.95" width="2.4" height="2.4" fill="#666"/><path d="M340.8 89.66499999999999L342.2 92.185L339.40000000000003 92.185Z" fill="#bbb"/><path d="M339.7 96.88000000000001L341.90000000000003 99.08M341.90000000000003 96.88000000000001L339.7 99.08" stroke="#ccc" stroke-width="0.6"/><path d="M339.7 103.795L341.90000000000003 105.99499999999999M341.90000000000003 103.795L339.7 105.99499999999999" stroke="#ccc" stroke-width="0.6"/><path d="M339.4 133.8L340.9 135.3L339.4 136.8L337.9 135.3Z" fill="#222"/><rect x="338.2" y="139.24300000000002" width="2.4" height="2.4" fill="#555"/><path d="M339.4 144.186L340.79999999999995 146.70600000000002L338.0 146.70600000000002Z" fill="#222"/><path d="M338.29999999999995 149.62900000000002L340.5 151.829M340.5 149.62900000000002L338.29999999999995 151.829" stroke="#bbb" stroke-width="0.6"/><path d="M338.29999999999995 154.77200000000002L340.5 156.972M340.5 154.77200000000002L338.29999999999995 156.972" stroke="#bbb" stroke-width="0.6"/><circle cx="339.4" cy="161.01500000000001" r="1.3" fill="#888"/><path d="M338.09999999999997 166.15800000000002H340.7M339.4 164.858V167.45800000000003" stroke="#aaa" stroke-width="0.6"/><path d="M338.09999999999997 171.30100000000002H340.7" stroke="#999" stroke-width="0.9"/><path d="M338.09999999999997 176.44400000000002H340.7" stroke="#333" stroke-width="0.9"/><path d="M339.4 180.08700000000002L340.9 181.58700000000002L339.4 183.08700000000002L337.9 181.58700000000002Z" fill="#222"/><rect x="338.2" y="185.53000000000003" width="2.4" height="2.4" fill="#666"/><path d="M339.4 190.473L340.79999999999995 192.99300000000002L338.0 192.99300000000002Z" fill="#bbb"/><path d="M338.29999999999995 195.91600000000003L340.5 198.116M340.5 195.91600000000003L338.29999999999995 198.116" stroke="#ccc" stroke-width="0.6"/><path d="M338.29999999999995 201.059L340.5 203.259M340.5 201.059L338.29999999999995 203.259" stroke="#ccc" stroke-width="0.6"/><circle cx="339.4" cy="207.30200000000002" r="1.3" fill="#aaa"/><path d="M338.09999999999997 212.445H340.7" stroke="#bbb" stroke-width="0.9"/><path d="M339.4 216.08800000000002L340.9 217.58800000000002L339.4 219.08800000000002L337.9 217.58800000000002Z" fill="#555"/><rect x="338.2" y="221.531" width="2.4" height="2.4" fill="#999"/><path d="M339.4 226.47400000000002L340.79999999999995 228.99400000000003L338.0 228.99400000000003Z" fill="#777"/><path d="M338.29999999999995 231.917L340.5 234.117M340.5 231.917L338.29999999999995 234.117" stroke="#ccc" stroke-width="0.6"/><path d="M338.29999999999995 237.06000000000003L340.5 239.26000000000002M340.5 237.06000000000003L338.29999999999995 239.26000000000002" stroke="#ccc" stroke-width="0.6"/><circle cx="339.4" cy="243.303" r="1.3" fill="#ccc"/></g></svg>
</body></html>
